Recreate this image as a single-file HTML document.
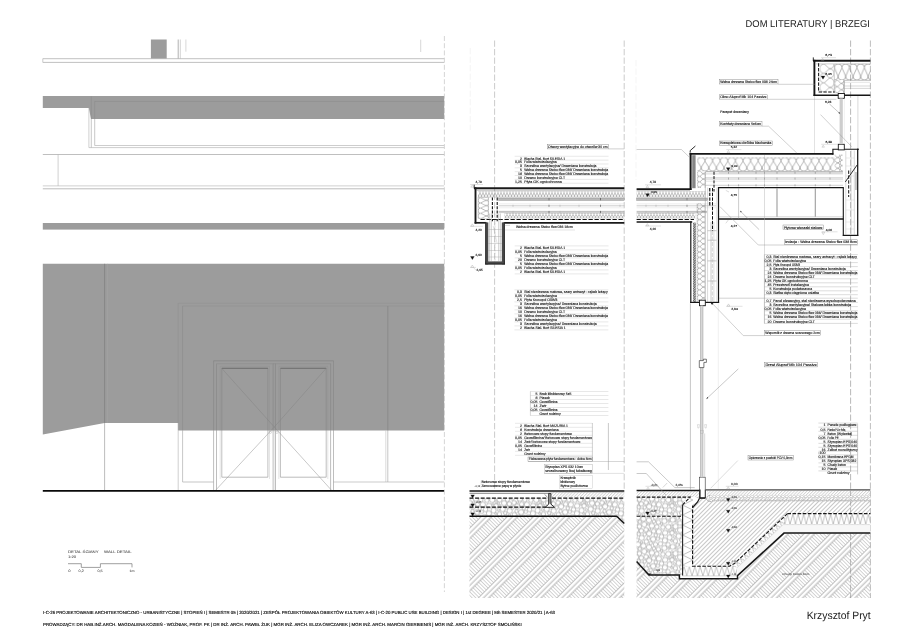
<!DOCTYPE html>
<html><head><meta charset="utf-8"><title>DOM LITERATURY | BRZEGI</title>
<style>
html,body{margin:0;padding:0;background:#fff;}
body{width:900px;height:636px;overflow:hidden;font-family:"Liberation Sans",sans-serif;}
svg{display:block;position:absolute;left:0;top:0;}
svg text{font-family:"Liberation Sans",sans-serif;text-rendering:geometricPrecision;}
</style></head><body>
<svg width="900" height="636" viewBox="0 0 900 636">
<defs><filter id="gs" x="0" y="0" width="100%" height="100%" color-interpolation-filters="sRGB"><feColorMatrix type="saturate" values="0"/></filter></defs>
<g filter="url(#gs)">
<defs>
<pattern id="earth" patternUnits="userSpaceOnUse" width="18.5" height="2.6" patternTransform="translate(488.3 535) rotate(45)"><line x1="0.3" y1="0" x2="0.3" y2="2.6" stroke="#7a7a7a" stroke-width="0.55"/><line x1="4.05" y1="0" x2="4.05" y2="2.6" stroke="#7a7a7a" stroke-width="0.55"/><line x1="7.8" y1="0" x2="7.8" y2="2.6" stroke="#7a7a7a" stroke-width="0.55"/><line x1="7.8" y1="1.3" x2="18.5" y2="1.3" stroke="#9c9c9c" stroke-width="0.45"/><line x1="0" y1="1.3" x2="0.3" y2="1.3" stroke="#9c9c9c" stroke-width="0.45"/></pattern>
<pattern id="gravel" patternUnits="userSpaceOnUse" width="44.0" height="27.0" patternTransform="translate(469 498.4)"><rect width="44.0" height="27.0" fill="#fff"/><circle cx="19.90" cy="15.11" r="2.6" fill="#fff" stroke="#858585" stroke-width="0.5"/><circle cx="40.67" cy="12.57" r="2.6" fill="#fff" stroke="#858585" stroke-width="0.5"/><circle cx="8.13" cy="13.82" r="2.6" fill="#fff" stroke="#858585" stroke-width="0.5"/><circle cx="27.71" cy="21.41" r="2.6" fill="#fff" stroke="#858585" stroke-width="0.5"/><circle cx="4.14" cy="8.19" r="2.6" fill="#fff" stroke="#858585" stroke-width="0.5"/><circle cx="3.99" cy="21.86" r="2.6" fill="#fff" stroke="#858585" stroke-width="0.5"/><circle cx="30.51" cy="1.13" r="2.6" fill="#fff" stroke="#858585" stroke-width="0.5"/><circle cx="30.51" cy="28.13" r="2.6" fill="#fff" stroke="#858585" stroke-width="0.5"/><circle cx="-0.78" cy="-0.95" r="2.6" fill="#fff" stroke="#858585" stroke-width="0.5"/><circle cx="-0.78" cy="26.05" r="2.6" fill="#fff" stroke="#858585" stroke-width="0.5"/><circle cx="43.22" cy="-0.95" r="2.6" fill="#fff" stroke="#858585" stroke-width="0.5"/><circle cx="43.22" cy="26.05" r="2.6" fill="#fff" stroke="#858585" stroke-width="0.5"/><circle cx="6.93" cy="0.41" r="2.6" fill="#fff" stroke="#858585" stroke-width="0.5"/><circle cx="6.93" cy="27.41" r="2.6" fill="#fff" stroke="#858585" stroke-width="0.5"/><circle cx="23.25" cy="1.61" r="2.6" fill="#fff" stroke="#858585" stroke-width="0.5"/><circle cx="23.25" cy="28.61" r="2.6" fill="#fff" stroke="#858585" stroke-width="0.5"/><circle cx="19.38" cy="22.75" r="2.6" fill="#fff" stroke="#858585" stroke-width="0.5"/><circle cx="20.12" cy="7.51" r="2.6" fill="#fff" stroke="#858585" stroke-width="0.5"/><circle cx="36.97" cy="19.11" r="2.6" fill="#fff" stroke="#858585" stroke-width="0.5"/><circle cx="13.87" cy="6.20" r="2.6" fill="#fff" stroke="#858585" stroke-width="0.5"/><circle cx="33.72" cy="10.81" r="2.6" fill="#fff" stroke="#858585" stroke-width="0.5"/><circle cx="-1.58" cy="20.47" r="2.6" fill="#fff" stroke="#858585" stroke-width="0.5"/><circle cx="42.42" cy="20.47" r="2.6" fill="#fff" stroke="#858585" stroke-width="0.5"/><circle cx="35.07" cy="4.80" r="2.6" fill="#fff" stroke="#858585" stroke-width="0.5"/><circle cx="24.61" cy="12.08" r="2.6" fill="#fff" stroke="#858585" stroke-width="0.5"/><circle cx="13.38" cy="23.89" r="2.2" fill="#fff" stroke="#858585" stroke-width="0.5"/><circle cx="10.49" cy="19.02" r="2.2" fill="#fff" stroke="#858585" stroke-width="0.5"/><circle cx="27.03" cy="7.57" r="2.2" fill="#fff" stroke="#858585" stroke-width="0.5"/><circle cx="40.36" cy="5.51" r="2.2" fill="#fff" stroke="#858585" stroke-width="0.5"/><circle cx="30.41" cy="15.78" r="2.2" fill="#fff" stroke="#858585" stroke-width="0.5"/><circle cx="34.90" cy="-2.29" r="2.2" fill="#fff" stroke="#858585" stroke-width="0.5"/><circle cx="34.90" cy="24.71" r="2.2" fill="#fff" stroke="#858585" stroke-width="0.5"/><circle cx="15.48" cy="18.50" r="2.2" fill="#fff" stroke="#858585" stroke-width="0.5"/><circle cx="1.31" cy="16.23" r="2.2" fill="#fff" stroke="#858585" stroke-width="0.5"/><circle cx="45.31" cy="16.23" r="2.2" fill="#fff" stroke="#858585" stroke-width="0.5"/><circle cx="38.40" cy="1.12" r="2.2" fill="#fff" stroke="#858585" stroke-width="0.5"/><circle cx="38.40" cy="28.12" r="2.2" fill="#fff" stroke="#858585" stroke-width="0.5"/><circle cx="16.53" cy="11.16" r="2.2" fill="#fff" stroke="#858585" stroke-width="0.5"/><circle cx="23.05" cy="19.17" r="2.2" fill="#fff" stroke="#858585" stroke-width="0.5"/><circle cx="17.90" cy="1.96" r="2.2" fill="#fff" stroke="#858585" stroke-width="0.5"/><circle cx="17.90" cy="28.96" r="2.2" fill="#fff" stroke="#858585" stroke-width="0.5"/><circle cx="8.65" cy="5.81" r="2.2" fill="#fff" stroke="#858585" stroke-width="0.5"/><circle cx="1.01" cy="4.35" r="2.2" fill="#fff" stroke="#858585" stroke-width="0.5"/><circle cx="45.01" cy="4.35" r="2.2" fill="#fff" stroke="#858585" stroke-width="0.5"/><circle cx="11.88" cy="1.40" r="2.2" fill="#fff" stroke="#858585" stroke-width="0.5"/><circle cx="11.88" cy="28.40" r="2.2" fill="#fff" stroke="#858585" stroke-width="0.5"/><circle cx="-0.27" cy="9.15" r="1.7" fill="#fff" stroke="#858585" stroke-width="0.5"/><circle cx="43.73" cy="9.15" r="1.7" fill="#fff" stroke="#858585" stroke-width="0.5"/><circle cx="3.53" cy="12.75" r="1.7" fill="#fff" stroke="#858585" stroke-width="0.5"/><circle cx="12.88" cy="13.54" r="1.7" fill="#fff" stroke="#858585" stroke-width="0.5"/><circle cx="10.76" cy="9.89" r="1.7" fill="#fff" stroke="#858585" stroke-width="0.5"/><circle cx="38.82" cy="23.49" r="1.7" fill="#fff" stroke="#858585" stroke-width="0.5"/><circle cx="32.46" cy="19.62" r="1.7" fill="#fff" stroke="#858585" stroke-width="0.5"/><circle cx="36.19" cy="14.71" r="1.7" fill="#fff" stroke="#858585" stroke-width="0.5"/><circle cx="5.77" cy="17.71" r="1.7" fill="#fff" stroke="#858585" stroke-width="0.5"/><circle cx="8.92" cy="23.11" r="1.7" fill="#fff" stroke="#858585" stroke-width="0.5"/><circle cx="37.76" cy="8.74" r="1.7" fill="#fff" stroke="#858585" stroke-width="0.5"/><circle cx="31.23" cy="23.14" r="1.1" fill="#fff" stroke="#858585" stroke-width="0.5"/><circle cx="3.26" cy="-1.18" r="1.1" fill="#fff" stroke="#858585" stroke-width="0.5"/><circle cx="3.26" cy="25.82" r="1.1" fill="#fff" stroke="#858585" stroke-width="0.5"/><circle cx="26.77" cy="15.39" r="1.1" fill="#fff" stroke="#858585" stroke-width="0.5"/><circle cx="27.00" cy="3.42" r="1.1" fill="#fff" stroke="#858585" stroke-width="0.5"/><circle cx="26.77" cy="-0.27" r="1.1" fill="#fff" stroke="#858585" stroke-width="0.5"/><circle cx="26.77" cy="26.73" r="1.1" fill="#fff" stroke="#858585" stroke-width="0.5"/><circle cx="30.92" cy="7.28" r="1.1" fill="#fff" stroke="#858585" stroke-width="0.5"/><circle cx="23.87" cy="23.17" r="1.1" fill="#fff" stroke="#858585" stroke-width="0.5"/><circle cx="40.46" cy="16.90" r="1.1" fill="#fff" stroke="#858585" stroke-width="0.5"/><circle cx="29.43" cy="11.54" r="1.1" fill="#fff" stroke="#858585" stroke-width="0.5"/><circle cx="4.49" cy="3.94" r="1.1" fill="#fff" stroke="#858585" stroke-width="0.5"/><circle cx="16.57" cy="-1.48" r="1.1" fill="#fff" stroke="#858585" stroke-width="0.5"/><circle cx="16.57" cy="25.52" r="1.1" fill="#fff" stroke="#858585" stroke-width="0.5"/><circle cx="23.94" cy="5.77" r="1.1" fill="#fff" stroke="#858585" stroke-width="0.5"/><circle cx="29.33" cy="4.81" r="1.1" fill="#fff" stroke="#858585" stroke-width="0.5"/></pattern>
<pattern id="ins" patternUnits="userSpaceOnUse" width="3.0" height="6.2" patternTransform="translate(0 191.3)"><path d="M0 1.50 A1.50 1.50 0 0 1 3.00 1.50 M0 1.50 L1.50 4.70 L3.00 1.50 M-1.50 4.70 A1.50 1.50 0 0 0 1.50 4.70 M1.50 4.70 A1.50 1.50 0 0 0 4.50 4.70" fill="none" stroke="#8d8d8d" stroke-width="0.55"/></pattern>
<pattern id="ins2" patternUnits="userSpaceOnUse" width="3.0" height="5.4" patternTransform="translate(0 213.1)"><path d="M0 1.50 A1.50 1.50 0 0 1 3.00 1.50 M0 1.50 L1.50 3.90 L3.00 1.50 M-1.50 3.90 A1.50 1.50 0 0 0 1.50 3.90 M1.50 3.90 A1.50 1.50 0 0 0 4.50 3.90" fill="none" stroke="#8d8d8d" stroke-width="0.55"/></pattern>
<pattern id="wave" patternUnits="userSpaceOnUse" width="7.6" height="13.8" patternTransform="translate(697.4 157.4)"><path d="M0 3.80 A3.80 3.80 0 0 1 7.60 3.80 M0 3.80 L3.80 10.00 L7.60 3.80 M-3.80 10.00 A3.80 3.80 0 0 0 3.80 10.00 M3.80 10.00 A3.80 3.80 0 0 0 11.40 10.00" fill="none" stroke="#7a7a7a" stroke-width="0.55"/></pattern>
<pattern id="wave2" patternUnits="userSpaceOnUse" width="7.5" height="16.2" patternTransform="translate(834.4 63.9)"><path d="M0 3.75 A3.75 3.75 0 0 1 7.50 3.75 M0 3.75 L3.75 12.45 L7.50 3.75 M-3.75 12.45 A3.75 3.75 0 0 0 3.75 12.45 M3.75 12.45 A3.75 3.75 0 0 0 11.25 12.45" fill="none" stroke="#7a7a7a" stroke-width="0.55"/></pattern>
<pattern id="wavev" patternUnits="userSpaceOnUse" width="5.4" height="8.4" patternTransform="translate(697.2 171) rotate(90) scale(1 -1)"><path d="M0 2.70 A2.70 2.70 0 0 1 5.40 2.70 M0 2.70 L2.70 5.70 L5.40 2.70 M-2.70 5.70 A2.70 2.70 0 0 0 2.70 5.70 M2.70 5.70 A2.70 2.70 0 0 0 8.10 5.70" fill="none" stroke="#7a7a7a" stroke-width="0.5"/></pattern>
<pattern id="wavev2" patternUnits="userSpaceOnUse" width="5.2" height="10.8" patternTransform="translate(478 197.8) rotate(90) scale(1 -1)"><path d="M0 2.60 A2.60 2.60 0 0 1 5.20 2.60 M0 2.60 L2.60 8.20 L5.20 2.60 M-2.60 8.20 A2.60 2.60 0 0 0 2.60 8.20 M2.60 8.20 A2.60 2.60 0 0 0 7.80 8.20" fill="none" stroke="#7a7a7a" stroke-width="0.5"/></pattern>
<pattern id="wavev3" patternUnits="userSpaceOnUse" width="9.4" height="14.6" patternTransform="translate(819.6 64) rotate(90) scale(1 -1)"><path d="M0 4.70 A4.70 4.70 0 0 1 9.40 4.70 M0 4.70 L4.70 9.90 L9.40 4.70 M-4.70 9.90 A4.70 4.70 0 0 0 4.70 9.90 M4.70 9.90 A4.70 4.70 0 0 0 14.10 9.90" fill="none" stroke="#7a7a7a" stroke-width="0.5"/></pattern>
<pattern id="wavev4" patternUnits="userSpaceOnUse" width="6.4" height="9.6" patternTransform="translate(834.5 80.2) rotate(90) scale(1 -1)"><path d="M0 3.20 A3.20 3.20 0 0 1 6.40 3.20 M0 3.20 L3.20 6.40 L6.40 3.20 M-3.20 6.40 A3.20 3.20 0 0 0 3.20 6.40 M3.20 6.40 A3.20 3.20 0 0 0 9.60 6.40" fill="none" stroke="#7a7a7a" stroke-width="0.5"/></pattern>
<pattern id="xpsv" patternUnits="userSpaceOnUse" width="10.2" height="10" patternTransform="translate(682.6 505)"><path d="M0 0 L10.2 5 L0 10" fill="none" stroke="#858585" stroke-width="0.5"/></pattern>
<pattern id="xpsh" patternUnits="userSpaceOnUse" width="5.4" height="9.6" patternTransform="translate(684 566.4)"><path d="M0 0 L2.7 9.6 L5.4 0" fill="none" stroke="#858585" stroke-width="0.5"/></pattern>
<pattern id="xpsd" patternUnits="userSpaceOnUse" width="5.4" height="10.2" patternTransform="translate(787.4 514) "><path d="M0 0 L2.7 10.2 L5.4 0" fill="none" stroke="#858585" stroke-width="0.5"/></pattern>
<pattern id="xpsdiag" patternUnits="userSpaceOnUse" width="5.4" height="7.6" patternTransform="translate(787.4 513.8) rotate(-43.3)"><path d="M0 0 L2.7 7.6 L5.4 0" fill="none" stroke="#858585" stroke-width="0.5"/></pattern>
<pattern id="lh" patternUnits="userSpaceOnUse" width="2.2" height="2.2" patternTransform="rotate(45)"><line x1="0.5" y1="0" x2="0.5" y2="2.2" stroke="#a8a8a8" stroke-width="0.45"/></pattern>
<pattern id="conc" patternUnits="userSpaceOnUse" width="3.0" height="3" patternTransform="translate(692 500) rotate(45)"><line x1="0.5" y1="0" x2="0.5" y2="3" stroke="#8f8f8f" stroke-width="0.5"/></pattern>
<pattern id="dots" patternUnits="userSpaceOnUse" width="1.6" height="1.6"><rect width="1.6" height="1.6" fill="#d4d4d4"/><circle cx="0.8" cy="0.8" r="0.5" fill="#5a5a5a"/></pattern>
<pattern id="dots2" patternUnits="userSpaceOnUse" width="1.5" height="1.5"><rect width="1.5" height="1.5" fill="#b4b4b4"/><circle cx="0.75" cy="0.75" r="0.5" fill="#333"/></pattern>
<pattern id="dots3" patternUnits="userSpaceOnUse" width="1.5" height="1.5"><rect width="1.5" height="1.5" fill="#6e6e6e"/><circle cx="0.75" cy="0.75" r="0.55" fill="#111"/></pattern>
<pattern id="dots4" patternUnits="userSpaceOnUse" width="2.7" height="2.4"><rect width="2.7" height="2.4" fill="#c9c9c9"/><path d="M0.4 2.2 L2.3 0.2" stroke="#2a2a2a" stroke-width="0.95" fill="none"/></pattern>
</defs>
<g id="elev">
<rect x="150.90" y="39.50" width="15.80" height="19.10" fill="#9c9c9c" stroke="none" stroke-width="0.6" />
<line x1="178.20" y1="39.50" x2="178.20" y2="58.60" stroke="#8f8f8f" stroke-width="0.7" />
<line x1="180.30" y1="39.50" x2="180.30" y2="58.60" stroke="#b5b5b5" stroke-width="0.6" />
<line x1="185.90" y1="39.50" x2="185.90" y2="51.70" stroke="#bdbdbd" stroke-width="0.6" />
<line x1="420.70" y1="39.70" x2="420.70" y2="52.00" stroke="#bdbdbd" stroke-width="0.6" />
<line x1="42.80" y1="58.70" x2="444.20" y2="58.70" stroke="#a6a6a6" stroke-width="0.7" />
<line x1="42.80" y1="62.40" x2="444.20" y2="62.40" stroke="#a6a6a6" stroke-width="0.7" />
<line x1="42.80" y1="58.70" x2="42.80" y2="62.40" stroke="#a6a6a6" stroke-width="0.6" />
<path d="M42.80 95.90 L444.20 95.90 L444.20 118.90 L91.00 118.90 L88.80 108.00 L42.80 108.00 Z" fill="#9c9c9c" stroke="none" stroke-width="0.6" />
<line x1="94.70" y1="101.40" x2="444.20" y2="101.40" stroke="#888" stroke-width="0.5" />
<line x1="91.30" y1="96.50" x2="91.30" y2="118.90" stroke="#888" stroke-width="0.5" />
<line x1="94.70" y1="101.40" x2="94.70" y2="118.90" stroke="#888" stroke-width="0.5" />
<line x1="88.90" y1="108.00" x2="88.90" y2="147.60" stroke="#b0b0b0" stroke-width="0.6" />
<line x1="91.30" y1="118.90" x2="91.30" y2="147.60" stroke="#a3a3a3" stroke-width="0.6" />
<line x1="94.70" y1="118.90" x2="94.70" y2="145.50" stroke="#a3a3a3" stroke-width="0.6" />
<line x1="94.70" y1="145.50" x2="444.20" y2="145.50" stroke="#ababab" stroke-width="0.6" />
<line x1="88.90" y1="147.60" x2="444.20" y2="147.60" stroke="#ababab" stroke-width="0.6" />
<line x1="42.80" y1="154.50" x2="444.20" y2="154.50" stroke="#a3a3a3" stroke-width="0.7" />
<line x1="58.10" y1="154.50" x2="58.10" y2="185.90" stroke="#b0b0b0" stroke-width="0.6" />
<line x1="42.80" y1="185.90" x2="444.20" y2="185.90" stroke="#b0b0b0" stroke-width="0.6" />
<line x1="42.80" y1="188.80" x2="444.20" y2="188.80" stroke="#a0a0a0" stroke-width="0.7" />
<rect x="42.80" y="223.00" width="401.40" height="6.60" fill="#9c9c9c" stroke="none" stroke-width="0.6" />
<path d="M42.80 263.80 L444.20 263.80 L444.20 430.50 L178.20 430.50 L178.20 423.00 L104.60 423.00 L42.80 434.60 Z" fill="#9c9c9c" stroke="none" stroke-width="0.6" />
<line x1="104.60" y1="263.80" x2="104.60" y2="423.00" stroke="#808080" stroke-width="0.8" />
<line x1="104.60" y1="423.00" x2="104.60" y2="490.80" stroke="#a0a0a0" stroke-width="0.7" />
<line x1="107.60" y1="263.80" x2="107.60" y2="423.00" stroke="#a6a6a6" stroke-width="0.5" />
<line x1="178.20" y1="303.30" x2="444.20" y2="303.30" stroke="#929292" stroke-width="0.6" />
<line x1="182.60" y1="306.00" x2="444.20" y2="306.00" stroke="#8e8e8e" stroke-width="0.5" />
<line x1="178.20" y1="303.30" x2="178.20" y2="430.50" stroke="#909090" stroke-width="0.6" />
<line x1="178.20" y1="430.50" x2="178.20" y2="490.80" stroke="#b0b0b0" stroke-width="0.6" />
<line x1="182.60" y1="306.00" x2="182.60" y2="430.50" stroke="#8a8a8a" stroke-width="0.6" />
<line x1="182.60" y1="430.50" x2="182.60" y2="482.00" stroke="#a0a0a0" stroke-width="0.6" />
<line x1="182.60" y1="482.00" x2="213.60" y2="482.00" stroke="#a0a0a0" stroke-width="0.6" />
<line x1="387.80" y1="306.00" x2="387.80" y2="430.50" stroke="#858585" stroke-width="0.7" />
<line x1="387.80" y1="430.50" x2="387.80" y2="482.00" stroke="#a0a0a0" stroke-width="0.6" />
<line x1="385.80" y1="430.50" x2="385.80" y2="482.00" stroke="#b8b8b8" stroke-width="0.5" />
<line x1="333.50" y1="482.00" x2="444.20" y2="482.00" stroke="#a8a8a8" stroke-width="0.6" />
<line x1="213.60" y1="360.80" x2="213.60" y2="430.50" stroke="#858585" stroke-width="0.6" />
<line x1="213.60" y1="430.50" x2="213.60" y2="490.80" stroke="#929292" stroke-width="0.6" />
<line x1="333.50" y1="360.80" x2="333.50" y2="430.50" stroke="#858585" stroke-width="0.6" />
<line x1="333.50" y1="430.50" x2="333.50" y2="490.80" stroke="#929292" stroke-width="0.6" />
<line x1="213.60" y1="360.80" x2="333.50" y2="360.80" stroke="#808080" stroke-width="0.6" />
<line x1="216.50" y1="363.70" x2="216.50" y2="430.50" stroke="#858585" stroke-width="0.6" />
<line x1="216.50" y1="430.50" x2="216.50" y2="490.80" stroke="#929292" stroke-width="0.6" />
<line x1="330.60" y1="363.70" x2="330.60" y2="430.50" stroke="#858585" stroke-width="0.6" />
<line x1="330.60" y1="430.50" x2="330.60" y2="490.80" stroke="#929292" stroke-width="0.6" />
<line x1="216.50" y1="363.70" x2="330.60" y2="363.70" stroke="#8c8c8c" stroke-width="0.6" />
<line x1="273.10" y1="363.70" x2="273.10" y2="430.50" stroke="#858585" stroke-width="0.6" />
<line x1="273.10" y1="430.50" x2="273.10" y2="490.80" stroke="#929292" stroke-width="0.6" />
<line x1="275.50" y1="363.70" x2="275.50" y2="430.50" stroke="#858585" stroke-width="0.6" />
<line x1="275.50" y1="430.50" x2="275.50" y2="490.80" stroke="#929292" stroke-width="0.6" />
<line x1="274.30" y1="363.70" x2="274.30" y2="430.50" stroke="#949494" stroke-width="0.4" />
<line x1="274.30" y1="430.50" x2="274.30" y2="490.80" stroke="#c4c4c4" stroke-width="0.4" />
<line x1="221.80" y1="368.20" x2="221.80" y2="430.50" stroke="#858585" stroke-width="0.6" />
<line x1="221.80" y1="430.50" x2="221.80" y2="477.20" stroke="#929292" stroke-width="0.6" />
<line x1="267.90" y1="368.20" x2="267.90" y2="430.50" stroke="#858585" stroke-width="0.6" />
<line x1="267.90" y1="430.50" x2="267.90" y2="477.20" stroke="#929292" stroke-width="0.6" />
<line x1="221.80" y1="477.20" x2="267.90" y2="477.20" stroke="#8e8e8e" stroke-width="0.6" />
<line x1="221.80" y1="368.30" x2="267.90" y2="368.30" stroke="#6a6a6a" stroke-width="1.1" />
<line x1="220.20" y1="366.30" x2="269.50" y2="366.30" stroke="#8e8e8e" stroke-width="0.4" />
<line x1="220.20" y1="366.30" x2="220.20" y2="430.50" stroke="#909090" stroke-width="0.4" />
<line x1="220.20" y1="430.50" x2="220.20" y2="479.00" stroke="#c0c0c0" stroke-width="0.4" />
<line x1="269.50" y1="366.30" x2="269.50" y2="430.50" stroke="#909090" stroke-width="0.4" />
<line x1="269.50" y1="430.50" x2="269.50" y2="479.00" stroke="#c0c0c0" stroke-width="0.4" />
<line x1="280.40" y1="368.20" x2="280.40" y2="430.50" stroke="#858585" stroke-width="0.6" />
<line x1="280.40" y1="430.50" x2="280.40" y2="477.20" stroke="#929292" stroke-width="0.6" />
<line x1="326.20" y1="368.20" x2="326.20" y2="430.50" stroke="#858585" stroke-width="0.6" />
<line x1="326.20" y1="430.50" x2="326.20" y2="477.20" stroke="#929292" stroke-width="0.6" />
<line x1="280.40" y1="477.20" x2="326.20" y2="477.20" stroke="#8e8e8e" stroke-width="0.6" />
<line x1="280.40" y1="368.30" x2="326.20" y2="368.30" stroke="#6a6a6a" stroke-width="1.1" />
<line x1="278.80" y1="366.30" x2="327.80" y2="366.30" stroke="#8e8e8e" stroke-width="0.4" />
<line x1="278.80" y1="366.30" x2="278.80" y2="430.50" stroke="#909090" stroke-width="0.4" />
<line x1="278.80" y1="430.50" x2="278.80" y2="479.00" stroke="#c0c0c0" stroke-width="0.4" />
<line x1="327.80" y1="366.30" x2="327.80" y2="430.50" stroke="#909090" stroke-width="0.4" />
<line x1="327.80" y1="430.50" x2="327.80" y2="479.00" stroke="#c0c0c0" stroke-width="0.4" />
<line x1="221.70" y1="368.30" x2="274.30" y2="427.00" stroke="#858585" stroke-width="0.5" />
<line x1="326.20" y1="368.30" x2="274.30" y2="427.00" stroke="#858585" stroke-width="0.5" />
<line x1="274.30" y1="427.00" x2="271.05" y2="430.50" stroke="#858585" stroke-width="0.5" />
<line x1="271.05" y1="430.50" x2="215.10" y2="490.80" stroke="#929292" stroke-width="0.5" />
<line x1="274.30" y1="427.00" x2="277.47" y2="430.50" stroke="#858585" stroke-width="0.5" />
<line x1="277.47" y1="430.50" x2="332.00" y2="490.80" stroke="#929292" stroke-width="0.5" />
<circle cx="270.3" cy="432.3" r="1.2" fill="none" stroke="#aaa" stroke-width="0.4"/>
<circle cx="276.9" cy="432.3" r="1.2" fill="none" stroke="#aaa" stroke-width="0.4"/>
<line x1="268.60" y1="430.80" x2="278.60" y2="430.80" stroke="#aaa" stroke-width="0.4" />
<line x1="42.80" y1="490.80" x2="444.20" y2="490.80" stroke="#0a0a0a" stroke-width="1.7" />
<line x1="444.40" y1="36.00" x2="444.40" y2="592.00" stroke="#c4c4c4" stroke-width="0.7" stroke-dasharray="5 2.2"/>
</g>
<g id="scalebar">
<text x="68.00" y="553.20" font-size="3.6" text-anchor="start" fill="#444" textLength="30.50" lengthAdjust="spacingAndGlyphs" stroke="#444" stroke-width="0.05">DETAL ŚCIANY</text>
<text x="104.00" y="553.20" font-size="3.6" text-anchor="start" fill="#444" textLength="27.60" lengthAdjust="spacingAndGlyphs" stroke="#444" stroke-width="0.05">WALL DETAIL</text>
<text x="68.00" y="558.20" font-size="3.6" text-anchor="start" fill="#444" textLength="8.20" lengthAdjust="spacingAndGlyphs" stroke="#444" stroke-width="0.05">1:20</text>
<path d="M68.00 563.70 L81.30 563.70 L81.30 567.40 L100.40 567.40 L100.40 563.70 L132.00 563.70 L132.00 567.40" fill="none" stroke="#777" stroke-width="0.7" />
<text x="68.20" y="572.00" font-size="3.4" text-anchor="start" fill="#444" textLength="2.30" lengthAdjust="spacingAndGlyphs" stroke="#444" stroke-width="0.05">0</text>
<text x="78.60" y="572.00" font-size="3.4" text-anchor="start" fill="#444" textLength="5.20" lengthAdjust="spacingAndGlyphs" stroke="#444" stroke-width="0.05">0,2</text>
<text x="97.40" y="572.00" font-size="3.4" text-anchor="start" fill="#444" textLength="5.20" lengthAdjust="spacingAndGlyphs" stroke="#444" stroke-width="0.05">0,5</text>
<text x="129.60" y="572.00" font-size="3.4" text-anchor="start" fill="#444" textLength="5.00" lengthAdjust="spacingAndGlyphs" stroke="#444" stroke-width="0.05">1m</text>
</g>
<g id="mid">
<line x1="494.60" y1="40.50" x2="494.60" y2="490.40" stroke="#b4b4b4" stroke-width="0.7" stroke-dasharray="6.3 2.2"/>
<line x1="624.20" y1="40.50" x2="624.20" y2="490.40" stroke="#b4b4b4" stroke-width="0.7" stroke-dasharray="6.3 2.2"/>
<line x1="470.20" y1="48.00" x2="470.20" y2="130.00" stroke="#ececec" stroke-width="0.6" stroke-dasharray="6.3 2.2"/>
<rect x="478" y="191.3" width="146.30" height="6.2" fill="url(#ins)"/>
<rect x="504.5" y="213.1" width="119.80" height="5.4" fill="url(#ins2)"/>
<rect x="478" y="197.8" width="10.8" height="20.8" fill="url(#wavev2)" stroke="#999" stroke-width="0.3"/>
<rect x="498.60" y="198.00" width="125.70" height="2.50" fill="#b9b9b9" stroke="#7c7c7c" stroke-width="0.35" />
<line x1="476.60" y1="190.30" x2="624.30" y2="190.30" stroke="#666" stroke-width="0.4" />
<line x1="498.60" y1="203.90" x2="624.30" y2="203.90" stroke="#cfcfcf" stroke-width="0.4" />
<line x1="498.60" y1="205.80" x2="624.30" y2="205.80" stroke="#8f8f8f" stroke-width="0.45" />
<line x1="498.60" y1="207.80" x2="624.30" y2="207.80" stroke="#d5d5d5" stroke-width="0.4" />
<line x1="498.60" y1="211.40" x2="624.30" y2="211.40" stroke="#555" stroke-width="0.4" />
<line x1="498.60" y1="212.60" x2="624.30" y2="212.60" stroke="#777" stroke-width="0.4" />
<line x1="513.00" y1="198.10" x2="513.00" y2="200.30" stroke="#aaa" stroke-width="0.5" />
<line x1="513.00" y1="204.70" x2="513.00" y2="206.90" stroke="#aaa" stroke-width="0.5" />
<line x1="513.00" y1="210.90" x2="513.00" y2="213.10" stroke="#aaa" stroke-width="0.5" />
<line x1="530.00" y1="198.10" x2="530.00" y2="200.30" stroke="#aaa" stroke-width="0.5" />
<line x1="530.00" y1="204.70" x2="530.00" y2="206.90" stroke="#aaa" stroke-width="0.5" />
<line x1="530.00" y1="210.90" x2="530.00" y2="213.10" stroke="#aaa" stroke-width="0.5" />
<line x1="549.00" y1="198.10" x2="549.00" y2="200.30" stroke="#333" stroke-width="0.5" />
<line x1="549.00" y1="204.70" x2="549.00" y2="206.90" stroke="#333" stroke-width="0.5" />
<line x1="549.00" y1="210.90" x2="549.00" y2="213.10" stroke="#333" stroke-width="0.5" />
<line x1="560.00" y1="198.10" x2="560.00" y2="200.30" stroke="#aaa" stroke-width="0.5" />
<line x1="560.00" y1="204.70" x2="560.00" y2="206.90" stroke="#aaa" stroke-width="0.5" />
<line x1="560.00" y1="210.90" x2="560.00" y2="213.10" stroke="#aaa" stroke-width="0.5" />
<line x1="579.00" y1="198.10" x2="579.00" y2="200.30" stroke="#aaa" stroke-width="0.5" />
<line x1="579.00" y1="204.70" x2="579.00" y2="206.90" stroke="#aaa" stroke-width="0.5" />
<line x1="579.00" y1="210.90" x2="579.00" y2="213.10" stroke="#aaa" stroke-width="0.5" />
<line x1="600.50" y1="198.10" x2="600.50" y2="200.30" stroke="#222" stroke-width="0.5" />
<line x1="600.50" y1="204.70" x2="600.50" y2="206.90" stroke="#222" stroke-width="0.5" />
<line x1="600.50" y1="210.90" x2="600.50" y2="213.10" stroke="#222" stroke-width="0.5" />
<line x1="620.00" y1="198.10" x2="620.00" y2="200.30" stroke="#aaa" stroke-width="0.5" />
<line x1="620.00" y1="204.70" x2="620.00" y2="206.90" stroke="#aaa" stroke-width="0.5" />
<line x1="620.00" y1="210.90" x2="620.00" y2="213.10" stroke="#aaa" stroke-width="0.5" />
<line x1="474.00" y1="188.30" x2="624.30" y2="188.30" stroke="#1a1a1a" stroke-width="2.0" />
<line x1="475.50" y1="187.30" x2="475.50" y2="223.60" stroke="#1a1a1a" stroke-width="1.9" />
<line x1="474.60" y1="222.80" x2="486.50" y2="222.80" stroke="#1a1a1a" stroke-width="1.7" />
<line x1="503.60" y1="222.80" x2="624.30" y2="222.80" stroke="#1a1a1a" stroke-width="1.7" />
<line x1="480.50" y1="219.50" x2="624.30" y2="219.50" stroke="#111" stroke-width="1.2" stroke-dasharray="4.3 1.7"/>
<line x1="492.40" y1="197.60" x2="492.40" y2="221.30" stroke="#111" stroke-width="1.1" stroke-dasharray="3.0 1.3"/>
<line x1="497.20" y1="197.60" x2="497.20" y2="221.30" stroke="#111" stroke-width="1.1" stroke-dasharray="3.0 1.3"/>
<line x1="474.20" y1="184.60" x2="474.20" y2="188.50" stroke="#111" stroke-width="0.9" />
<rect x="485.30" y="222.40" width="3.00" height="42.00" fill="url(#dots3)" stroke="none" stroke-width="0.6" />
<rect x="501.80" y="222.40" width="3.00" height="42.00" fill="url(#dots3)" stroke="none" stroke-width="0.6" />
<rect x="485.30" y="261.40" width="19.50" height="3.00" fill="url(#dots3)" stroke="none" stroke-width="0.6" />
<line x1="485.70" y1="222.60" x2="485.70" y2="264.40" stroke="#222" stroke-width="0.8" />
<line x1="504.40" y1="222.60" x2="504.40" y2="264.40" stroke="#222" stroke-width="0.8" />
<line x1="485.30" y1="264.00" x2="504.80" y2="264.00" stroke="#222" stroke-width="0.9" />
<line x1="489.60" y1="213.50" x2="489.60" y2="261.40" stroke="#8a8a8a" stroke-width="0.4" />
<line x1="491.30" y1="213.50" x2="491.30" y2="261.40" stroke="#8a8a8a" stroke-width="0.4" />
<line x1="498.70" y1="213.50" x2="498.70" y2="261.40" stroke="#8a8a8a" stroke-width="0.4" />
<line x1="500.40" y1="213.50" x2="500.40" y2="261.40" stroke="#8a8a8a" stroke-width="0.4" />
<line x1="495.00" y1="213.50" x2="495.00" y2="261.40" stroke="#aaa" stroke-width="0.4" stroke-dasharray="2 1"/>
<line x1="488.30" y1="229.50" x2="501.80" y2="229.50" stroke="#a5a5a5" stroke-width="0.4" />
<line x1="488.30" y1="236.50" x2="501.80" y2="236.50" stroke="#a5a5a5" stroke-width="0.4" />
<line x1="488.30" y1="243.50" x2="501.80" y2="243.50" stroke="#a5a5a5" stroke-width="0.4" />
<line x1="488.30" y1="250.50" x2="501.80" y2="250.50" stroke="#a5a5a5" stroke-width="0.4" />
<line x1="488.30" y1="257.00" x2="501.80" y2="257.00" stroke="#a5a5a5" stroke-width="0.4" />
<line x1="493.20" y1="226.00" x2="497.00" y2="243.00" stroke="#bbb" stroke-width="0.4" />
<text x="475.60" y="183.40" font-size="3.2" text-anchor="start" fill="#111" textLength="6.20" lengthAdjust="spacingAndGlyphs"  stroke="#111" stroke-width="0.12">4,78</text>
<line x1="470.00" y1="184.50" x2="483.00" y2="184.50" stroke="#aaa" stroke-width="0.35" />
<path d="M470.81 187.20 L473.79 187.20 L472.30 184.80 Z" fill="none" stroke="#999" stroke-width="0.35" />
<text x="475.60" y="230.60" font-size="3.2" text-anchor="start" fill="#111" textLength="6.20" lengthAdjust="spacingAndGlyphs"  stroke="#111" stroke-width="0.12">4,20</text>
<line x1="470.00" y1="226.30" x2="483.00" y2="226.30" stroke="#aaa" stroke-width="0.35" />
<path d="M470.81 226.20 L473.79 226.20 L472.30 223.80 Z" fill="none" stroke="#999" stroke-width="0.35" />
<text x="475.60" y="255.60" font-size="3.2" text-anchor="start" fill="#111" textLength="6.20" lengthAdjust="spacingAndGlyphs"  stroke="#111" stroke-width="0.12">3,90</text>
<path d="M470.54 256.50 L474.26 256.50 L472.40 259.60 Z" fill="#111" stroke="#111" stroke-width="0.3" />
<text x="476.60" y="271.20" font-size="3.2" text-anchor="start" fill="#111" textLength="6.20" lengthAdjust="spacingAndGlyphs"  stroke="#111" stroke-width="0.12">3,95</text>
<path d="M470.81 267.40 L473.79 267.40 L472.30 265.00 Z" fill="none" stroke="#999" stroke-width="0.35" />
<line x1="473.40" y1="267.40" x2="476.00" y2="270.30" stroke="#aaa" stroke-width="0.35" />
<line x1="470.00" y1="267.40" x2="476.00" y2="267.40" stroke="#aaa" stroke-width="0.35" />
<path d="M469.5 516.6 L616.7 516.6 L624.3 523.8 L624.3 598 L469.5 598 Z" fill="url(#earth)"/>
<path d="M469.5 498.6 L624.3 498.6 L624.3 523 L616.7 516 L469.5 516 Z" fill="url(#gravel)"/>
<rect x="551.2" y="492.3" width="73.10" height="5.0" fill="url(#lh)"/>
<line x1="469.50" y1="491.00" x2="624.30" y2="491.00" stroke="#151515" stroke-width="1.4" />
<line x1="469.50" y1="493.30" x2="549.00" y2="493.30" stroke="#333" stroke-width="0.6" />
<line x1="551.00" y1="492.40" x2="624.30" y2="492.40" stroke="#999" stroke-width="0.4" />
<line x1="469.50" y1="498.20" x2="548.00" y2="498.20" stroke="#111" stroke-width="1.2" stroke-dasharray="4.0 1.6"/>
<line x1="552.00" y1="498.20" x2="624.30" y2="498.20" stroke="#111" stroke-width="1.2" stroke-dasharray="4.0 1.6"/>
<line x1="469.50" y1="507.10" x2="545.60" y2="507.10" stroke="#111" stroke-width="1.2" stroke-dasharray="4.0 1.6"/>
<path d="M469.50 516.20 L616.70 516.20 L624.30 523.60" fill="none" stroke="#111" stroke-width="1.4" />
<path d="M548.70 493.30 L550.90 493.30 L550.90 504.20 L554.60 507.30 L545.20 507.30 L548.70 504.20 Z" fill="#fff" stroke="#111" stroke-width="0.9" />
<line x1="549.80" y1="493.30" x2="549.80" y2="503.50" stroke="#111" stroke-width="0.5" />
<path d="M470.80 494.90 L474.40 494.90 L472.60 497.90 Z" fill="#111" stroke="#111" stroke-width="0.3" />
<path d="M470.80 503.90 L474.40 503.90 L472.60 506.90 Z" fill="#111" stroke="#111" stroke-width="0.3" />
<path d="M470.80 512.90 L474.40 512.90 L472.60 515.90 Z" fill="#111" stroke="#111" stroke-width="0.3" />
<text x="475.80" y="502.60" font-size="2.6" text-anchor="start" fill="#555" textLength="5.40" lengthAdjust="spacingAndGlyphs"  stroke="#555" stroke-width="0.12">-0,27</text>
<text x="475.80" y="511.60" font-size="2.6" text-anchor="start" fill="#555" textLength="5.40" lengthAdjust="spacingAndGlyphs"  stroke="#555" stroke-width="0.12">-0,36</text>
<line x1="544.50" y1="494.30" x2="547.50" y2="497.20" stroke="#333" stroke-width="0.5" />
</g>
<g id="midlabels">
<rect x="547.30" y="144.30" width="61.10" height="4.60" fill="none" stroke="#777" stroke-width="0.4" />
<text x="548.10" y="147.85" font-size="3.6" text-anchor="start" fill="#111" textLength="59.50" lengthAdjust="spacingAndGlyphs"  stroke="#111" stroke-width="0.12">Otwory wentylacyjne do otworów 30 cm</text>
<line x1="608.40" y1="148.90" x2="624.30" y2="148.90" stroke="#888" stroke-width="0.4" />
<line x1="514.70" y1="156.28" x2="608.50" y2="156.28" stroke="#bdbdbd" stroke-width="0.35" />
<text x="521.90" y="159.58" font-size="3.6" text-anchor="end" fill="#111"  stroke="#111" stroke-width="0.12">2</text>
<text x="524.20" y="159.58" font-size="3.6" text-anchor="start" fill="#111" textLength="40.80" lengthAdjust="spacingAndGlyphs"  stroke="#111" stroke-width="0.12">Blacha Stal. Bort   SILESIA 1</text>
<line x1="514.70" y1="160.13" x2="608.50" y2="160.13" stroke="#bdbdbd" stroke-width="0.35" />
<text x="521.90" y="163.43" font-size="3.6" text-anchor="end" fill="#111"  stroke="#111" stroke-width="0.12">0,05</text>
<text x="524.20" y="163.43" font-size="3.6" text-anchor="start" fill="#111" textLength="32.50" lengthAdjust="spacingAndGlyphs"  stroke="#111" stroke-width="0.12">Folia wiatroizolacyjna</text>
<line x1="514.70" y1="163.97" x2="608.50" y2="163.97" stroke="#bdbdbd" stroke-width="0.35" />
<text x="521.90" y="167.28" font-size="3.6" text-anchor="end" fill="#111"  stroke="#111" stroke-width="0.12">3</text>
<text x="524.20" y="167.28" font-size="3.6" text-anchor="start" fill="#111" textLength="72.20" lengthAdjust="spacingAndGlyphs"  stroke="#111" stroke-width="0.12">Szczelina wentylacyjna/ Drewniana konstrukcja</text>
<line x1="514.70" y1="167.83" x2="608.50" y2="167.83" stroke="#bdbdbd" stroke-width="0.35" />
<text x="521.90" y="171.13" font-size="3.6" text-anchor="end" fill="#111"  stroke="#111" stroke-width="0.12">5</text>
<text x="524.20" y="171.13" font-size="3.6" text-anchor="start" fill="#111" textLength="83.90" lengthAdjust="spacingAndGlyphs"  stroke="#111" stroke-width="0.12">Wełna drzewna Steico flex 036/ Drewniana konstrukcja</text>
<line x1="514.70" y1="171.67" x2="608.50" y2="171.67" stroke="#bdbdbd" stroke-width="0.35" />
<text x="521.90" y="174.98" font-size="3.6" text-anchor="end" fill="#111"  stroke="#111" stroke-width="0.12">18</text>
<text x="524.20" y="174.98" font-size="3.6" text-anchor="start" fill="#111" textLength="83.90" lengthAdjust="spacingAndGlyphs"  stroke="#111" stroke-width="0.12">Wełna drzewna Steico flex 036/ Drewniana konstrukcja</text>
<line x1="514.70" y1="175.53" x2="608.50" y2="175.53" stroke="#bdbdbd" stroke-width="0.35" />
<text x="521.90" y="178.83" font-size="3.6" text-anchor="end" fill="#111"  stroke="#111" stroke-width="0.12">10</text>
<text x="524.20" y="178.83" font-size="3.6" text-anchor="start" fill="#111" textLength="40.80" lengthAdjust="spacingAndGlyphs"  stroke="#111" stroke-width="0.12">Drewno konstrukcyjne CLT</text>
<line x1="514.70" y1="179.38" x2="608.50" y2="179.38" stroke="#bdbdbd" stroke-width="0.35" />
<text x="521.90" y="182.68" font-size="3.6" text-anchor="end" fill="#111"  stroke="#111" stroke-width="0.12">1,25</text>
<text x="524.20" y="182.68" font-size="3.6" text-anchor="start" fill="#111" textLength="37.70" lengthAdjust="spacingAndGlyphs"  stroke="#111" stroke-width="0.12">Płyta GK ogniochronna</text>
<line x1="514.70" y1="183.22" x2="608.50" y2="183.22" stroke="#bdbdbd" stroke-width="0.35" />
<text x="515.90" y="228.40" font-size="3.6" text-anchor="start" fill="#111" textLength="56.90" lengthAdjust="spacingAndGlyphs"  stroke="#111" stroke-width="0.12">Wełna drzewna Steico flex 036 18cm</text>
<path d="M504.80 225.40 L510.00 225.40" fill="none" stroke="#999" stroke-width="0.35" />
<line x1="504.80" y1="230.00" x2="575.00" y2="230.00" stroke="#b5b5b5" stroke-width="0.35" />
<line x1="514.70" y1="245.90" x2="608.50" y2="245.90" stroke="#bdbdbd" stroke-width="0.35" />
<text x="521.90" y="249.28" font-size="3.6" text-anchor="end" fill="#111"  stroke="#111" stroke-width="0.12">2</text>
<text x="524.20" y="249.28" font-size="3.6" text-anchor="start" fill="#111" textLength="40.80" lengthAdjust="spacingAndGlyphs"  stroke="#111" stroke-width="0.12">Blacha Stal. Bort   SILESIA 1</text>
<line x1="514.70" y1="249.90" x2="608.50" y2="249.90" stroke="#bdbdbd" stroke-width="0.35" />
<text x="521.90" y="253.28" font-size="3.6" text-anchor="end" fill="#111"  stroke="#111" stroke-width="0.12">0,05</text>
<text x="524.20" y="253.28" font-size="3.6" text-anchor="start" fill="#111" textLength="32.50" lengthAdjust="spacingAndGlyphs"  stroke="#111" stroke-width="0.12">Folia wiatroizolacyjna</text>
<line x1="514.70" y1="253.90" x2="608.50" y2="253.90" stroke="#bdbdbd" stroke-width="0.35" />
<text x="521.90" y="257.28" font-size="3.6" text-anchor="end" fill="#111"  stroke="#111" stroke-width="0.12">5</text>
<text x="524.20" y="257.28" font-size="3.6" text-anchor="start" fill="#111" textLength="83.90" lengthAdjust="spacingAndGlyphs"  stroke="#111" stroke-width="0.12">Wełna drzewna Steico flex 036/ Drewniana konstrukcja</text>
<line x1="514.70" y1="257.90" x2="608.50" y2="257.90" stroke="#bdbdbd" stroke-width="0.35" />
<text x="521.90" y="261.28" font-size="3.6" text-anchor="end" fill="#111"  stroke="#111" stroke-width="0.12">20</text>
<text x="524.20" y="261.28" font-size="3.6" text-anchor="start" fill="#111" textLength="40.80" lengthAdjust="spacingAndGlyphs"  stroke="#111" stroke-width="0.12">Drewno konstrukcyjne CLT</text>
<line x1="514.70" y1="261.90" x2="608.50" y2="261.90" stroke="#bdbdbd" stroke-width="0.35" />
<text x="521.90" y="265.28" font-size="3.6" text-anchor="end" fill="#111"  stroke="#111" stroke-width="0.12">5</text>
<text x="524.20" y="265.28" font-size="3.6" text-anchor="start" fill="#111" textLength="83.90" lengthAdjust="spacingAndGlyphs"  stroke="#111" stroke-width="0.12">Wełna drzewna Steico flex 036/ Drewniana konstrukcja</text>
<line x1="514.70" y1="265.90" x2="608.50" y2="265.90" stroke="#bdbdbd" stroke-width="0.35" />
<text x="521.90" y="269.28" font-size="3.6" text-anchor="end" fill="#111"  stroke="#111" stroke-width="0.12">0,05</text>
<text x="524.20" y="269.28" font-size="3.6" text-anchor="start" fill="#111" textLength="32.50" lengthAdjust="spacingAndGlyphs"  stroke="#111" stroke-width="0.12">Folia wiatroizolacyjna</text>
<line x1="514.70" y1="269.90" x2="608.50" y2="269.90" stroke="#bdbdbd" stroke-width="0.35" />
<text x="521.90" y="273.28" font-size="3.6" text-anchor="end" fill="#111"  stroke="#111" stroke-width="0.12">2</text>
<text x="524.20" y="273.28" font-size="3.6" text-anchor="start" fill="#111" textLength="40.80" lengthAdjust="spacingAndGlyphs"  stroke="#111" stroke-width="0.12">Blacha Stal. Bort   SILESIA 1</text>
<line x1="514.70" y1="273.90" x2="608.50" y2="273.90" stroke="#bdbdbd" stroke-width="0.35" />
<line x1="514.40" y1="289.90" x2="608.40" y2="289.90" stroke="#bdbdbd" stroke-width="0.35" />
<text x="521.90" y="293.28" font-size="3.6" text-anchor="end" fill="#111"  stroke="#111" stroke-width="0.12">0,3</text>
<text x="524.20" y="293.28" font-size="3.6" text-anchor="start" fill="#111" textLength="83.60" lengthAdjust="spacingAndGlyphs"  stroke="#111" stroke-width="0.12">Stal nierdzewna matowa, szary antracyt - rąbek leżący</text>
<line x1="514.40" y1="293.90" x2="608.40" y2="293.90" stroke="#bdbdbd" stroke-width="0.35" />
<text x="521.90" y="297.28" font-size="3.6" text-anchor="end" fill="#111"  stroke="#111" stroke-width="0.12">0,05</text>
<text x="524.20" y="297.28" font-size="3.6" text-anchor="start" fill="#111" textLength="32.70" lengthAdjust="spacingAndGlyphs"  stroke="#111" stroke-width="0.12">Folia wiatroizolacyjna</text>
<line x1="514.40" y1="297.90" x2="608.40" y2="297.90" stroke="#bdbdbd" stroke-width="0.35" />
<text x="521.90" y="301.28" font-size="3.6" text-anchor="end" fill="#111"  stroke="#111" stroke-width="0.12">2,5</text>
<text x="524.20" y="301.28" font-size="3.6" text-anchor="start" fill="#111" textLength="33.20" lengthAdjust="spacingAndGlyphs"  stroke="#111" stroke-width="0.12">Płyta Kronopol OSB/3</text>
<line x1="514.40" y1="301.90" x2="608.40" y2="301.90" stroke="#bdbdbd" stroke-width="0.35" />
<text x="521.90" y="305.28" font-size="3.6" text-anchor="end" fill="#111"  stroke="#111" stroke-width="0.12">3</text>
<text x="524.20" y="305.28" font-size="3.6" text-anchor="start" fill="#111" textLength="72.40" lengthAdjust="spacingAndGlyphs"  stroke="#111" stroke-width="0.12">Szczelina wentylacyjna/ Drewniana konstrukcja</text>
<line x1="514.40" y1="305.90" x2="608.40" y2="305.90" stroke="#bdbdbd" stroke-width="0.35" />
<text x="521.90" y="309.28" font-size="3.6" text-anchor="end" fill="#111"  stroke="#111" stroke-width="0.12">16</text>
<text x="524.20" y="309.28" font-size="3.6" text-anchor="start" fill="#111" textLength="83.80" lengthAdjust="spacingAndGlyphs"  stroke="#111" stroke-width="0.12">Wełna drzewna Steico flex 036/ Drewniana konstrukcja</text>
<line x1="514.40" y1="309.90" x2="608.40" y2="309.90" stroke="#bdbdbd" stroke-width="0.35" />
<text x="521.90" y="313.28" font-size="3.6" text-anchor="end" fill="#111"  stroke="#111" stroke-width="0.12">10</text>
<text x="524.20" y="313.28" font-size="3.6" text-anchor="start" fill="#111" textLength="40.80" lengthAdjust="spacingAndGlyphs"  stroke="#111" stroke-width="0.12">Drewno konstrukcyjne CLT</text>
<line x1="514.40" y1="313.90" x2="608.40" y2="313.90" stroke="#bdbdbd" stroke-width="0.35" />
<text x="521.90" y="317.28" font-size="3.6" text-anchor="end" fill="#111"  stroke="#111" stroke-width="0.12">16</text>
<text x="524.20" y="317.28" font-size="3.6" text-anchor="start" fill="#111" textLength="83.80" lengthAdjust="spacingAndGlyphs"  stroke="#111" stroke-width="0.12">Wełna drzewna Steico flex 036/ Drewniana konstrukcja</text>
<line x1="514.40" y1="317.90" x2="608.40" y2="317.90" stroke="#bdbdbd" stroke-width="0.35" />
<text x="521.90" y="321.28" font-size="3.6" text-anchor="end" fill="#111"  stroke="#111" stroke-width="0.12">0,05</text>
<text x="524.20" y="321.28" font-size="3.6" text-anchor="start" fill="#111" textLength="32.70" lengthAdjust="spacingAndGlyphs"  stroke="#111" stroke-width="0.12">Folia wiatroizolacyjna</text>
<line x1="514.40" y1="321.90" x2="608.40" y2="321.90" stroke="#bdbdbd" stroke-width="0.35" />
<text x="521.90" y="325.28" font-size="3.6" text-anchor="end" fill="#111"  stroke="#111" stroke-width="0.12">3</text>
<text x="524.20" y="325.28" font-size="3.6" text-anchor="start" fill="#111" textLength="72.40" lengthAdjust="spacingAndGlyphs"  stroke="#111" stroke-width="0.12">Szczelina wentylacyjna/ Drewniana konstrukcja</text>
<line x1="514.40" y1="325.90" x2="608.40" y2="325.90" stroke="#bdbdbd" stroke-width="0.35" />
<text x="521.90" y="329.28" font-size="3.6" text-anchor="end" fill="#111"  stroke="#111" stroke-width="0.12">2</text>
<text x="524.20" y="329.28" font-size="3.6" text-anchor="start" fill="#111" textLength="41.40" lengthAdjust="spacingAndGlyphs"  stroke="#111" stroke-width="0.12">Blacha Stal. Bort   SILESIA 1</text>
<line x1="514.40" y1="329.90" x2="608.40" y2="329.90" stroke="#bdbdbd" stroke-width="0.35" />
<line x1="530.40" y1="391.50" x2="608.40" y2="391.50" stroke="#bdbdbd" stroke-width="0.35" />
<text x="537.60" y="394.88" font-size="3.6" text-anchor="end" fill="#111"  stroke="#111" stroke-width="0.12">5</text>
<text x="539.60" y="394.88" font-size="3.6" text-anchor="start" fill="#111" textLength="31.80" lengthAdjust="spacingAndGlyphs"  stroke="#111" stroke-width="0.12">Bruk klinkierowy 5x5</text>
<line x1="530.40" y1="395.50" x2="608.40" y2="395.50" stroke="#bdbdbd" stroke-width="0.35" />
<text x="537.60" y="398.88" font-size="3.6" text-anchor="end" fill="#111"  stroke="#111" stroke-width="0.12">8</text>
<text x="539.60" y="398.88" font-size="3.6" text-anchor="start" fill="#111" textLength="10.20" lengthAdjust="spacingAndGlyphs"  stroke="#111" stroke-width="0.12">Piasek</text>
<line x1="530.40" y1="399.50" x2="608.40" y2="399.50" stroke="#bdbdbd" stroke-width="0.35" />
<text x="537.60" y="402.88" font-size="3.6" text-anchor="end" fill="#111"  stroke="#111" stroke-width="0.12">0,05</text>
<text x="539.60" y="402.88" font-size="3.6" text-anchor="start" fill="#111" textLength="18.00" lengthAdjust="spacingAndGlyphs"  stroke="#111" stroke-width="0.12">Geowłóknina</text>
<line x1="530.40" y1="403.50" x2="608.40" y2="403.50" stroke="#bdbdbd" stroke-width="0.35" />
<text x="537.60" y="406.88" font-size="3.6" text-anchor="end" fill="#111"  stroke="#111" stroke-width="0.12">14</text>
<text x="539.60" y="406.88" font-size="3.6" text-anchor="start" fill="#111" textLength="6.80" lengthAdjust="spacingAndGlyphs"  stroke="#111" stroke-width="0.12">Żwir</text>
<line x1="530.40" y1="407.50" x2="608.40" y2="407.50" stroke="#bdbdbd" stroke-width="0.35" />
<text x="537.60" y="410.88" font-size="3.6" text-anchor="end" fill="#111"  stroke="#111" stroke-width="0.12">0,05</text>
<text x="539.60" y="410.88" font-size="3.6" text-anchor="start" fill="#111" textLength="18.00" lengthAdjust="spacingAndGlyphs"  stroke="#111" stroke-width="0.12">Geowłóknina</text>
<line x1="530.40" y1="411.50" x2="608.40" y2="411.50" stroke="#bdbdbd" stroke-width="0.35" />
<text x="539.60" y="414.88" font-size="3.6" text-anchor="start" fill="#111" textLength="21.20" lengthAdjust="spacingAndGlyphs"  stroke="#111" stroke-width="0.12">Grunt rodzimy</text>
<line x1="530.40" y1="415.50" x2="608.40" y2="415.50" stroke="#bdbdbd" stroke-width="0.35" />
<line x1="530.40" y1="391.40" x2="530.40" y2="415.60" stroke="#8c8c8c" stroke-width="0.35" />
<line x1="515.00" y1="423.30" x2="592.40" y2="423.30" stroke="#bdbdbd" stroke-width="0.35" />
<text x="521.90" y="426.68" font-size="3.6" text-anchor="end" fill="#111"  stroke="#111" stroke-width="0.12">2</text>
<text x="524.20" y="426.68" font-size="3.6" text-anchor="start" fill="#111" textLength="43.80" lengthAdjust="spacingAndGlyphs"  stroke="#111" stroke-width="0.12">Blacha Stal. Bort   MAZURIA 1</text>
<line x1="515.00" y1="427.30" x2="592.40" y2="427.30" stroke="#bdbdbd" stroke-width="0.35" />
<text x="521.90" y="430.68" font-size="3.6" text-anchor="end" fill="#111"  stroke="#111" stroke-width="0.12">8</text>
<text x="524.20" y="430.68" font-size="3.6" text-anchor="start" fill="#111" textLength="34.40" lengthAdjust="spacingAndGlyphs"  stroke="#111" stroke-width="0.12">Konstrukcja drewniana</text>
<line x1="515.00" y1="431.30" x2="592.40" y2="431.30" stroke="#bdbdbd" stroke-width="0.35" />
<text x="521.90" y="434.68" font-size="3.6" text-anchor="end" fill="#111"  stroke="#111" stroke-width="0.12">2</text>
<text x="524.20" y="434.68" font-size="3.6" text-anchor="start" fill="#111" textLength="47.80" lengthAdjust="spacingAndGlyphs"  stroke="#111" stroke-width="0.12">Betonowe stopy fundamentowe</text>
<line x1="515.00" y1="435.30" x2="592.40" y2="435.30" stroke="#bdbdbd" stroke-width="0.35" />
<text x="521.90" y="438.68" font-size="3.6" text-anchor="end" fill="#111"  stroke="#111" stroke-width="0.12">0,05</text>
<text x="524.20" y="438.68" font-size="3.6" text-anchor="start" fill="#111" textLength="67.80" lengthAdjust="spacingAndGlyphs"  stroke="#111" stroke-width="0.12">Geowłóknina/ Betonowe stopy fundamentowe</text>
<line x1="515.00" y1="439.30" x2="592.40" y2="439.30" stroke="#bdbdbd" stroke-width="0.35" />
<text x="521.90" y="442.68" font-size="3.6" text-anchor="end" fill="#111"  stroke="#111" stroke-width="0.12">14</text>
<text x="524.20" y="442.68" font-size="3.6" text-anchor="start" fill="#111" textLength="56.20" lengthAdjust="spacingAndGlyphs"  stroke="#111" stroke-width="0.12">Żwir/ betonowe stopy fundamentowe</text>
<line x1="515.00" y1="443.30" x2="592.40" y2="443.30" stroke="#bdbdbd" stroke-width="0.35" />
<text x="521.90" y="446.68" font-size="3.6" text-anchor="end" fill="#111"  stroke="#111" stroke-width="0.12">0,05</text>
<text x="524.20" y="446.68" font-size="3.6" text-anchor="start" fill="#111" textLength="17.80" lengthAdjust="spacingAndGlyphs"  stroke="#111" stroke-width="0.12">Geowłóknina</text>
<line x1="515.00" y1="447.30" x2="592.40" y2="447.30" stroke="#bdbdbd" stroke-width="0.35" />
<text x="521.90" y="450.68" font-size="3.6" text-anchor="end" fill="#111"  stroke="#111" stroke-width="0.12">14</text>
<text x="524.20" y="450.68" font-size="3.6" text-anchor="start" fill="#111" textLength="5.80" lengthAdjust="spacingAndGlyphs"  stroke="#111" stroke-width="0.12">Żwir</text>
<line x1="515.00" y1="451.30" x2="592.40" y2="451.30" stroke="#bdbdbd" stroke-width="0.35" />
<text x="524.20" y="454.68" font-size="3.6" text-anchor="start" fill="#111" textLength="21.40" lengthAdjust="spacingAndGlyphs"  stroke="#111" stroke-width="0.12">Grunt rodzimy</text>
<line x1="515.00" y1="455.30" x2="592.40" y2="455.30" stroke="#bdbdbd" stroke-width="0.35" />
<line x1="592.40" y1="423.00" x2="592.40" y2="461.40" stroke="#8c8c8c" stroke-width="0.4" />
<line x1="608.40" y1="423.00" x2="608.40" y2="470.00" stroke="#777" stroke-width="0.4" />
<rect x="528.00" y="457.00" width="64.40" height="4.20" fill="none" stroke="#777" stroke-width="0.4" />
<text x="528.80" y="460.35" font-size="3.6" text-anchor="start" fill="#111" textLength="62.80" lengthAdjust="spacingAndGlyphs"  stroke="#111" stroke-width="0.12">Fleksowana płyta fundamentowa - dolna 8cm</text>
<line x1="528.00" y1="461.50" x2="624.30" y2="461.50" stroke="#999" stroke-width="0.4" />
<rect x="544.40" y="464.40" width="48.00" height="9.00" fill="none" stroke="#999" stroke-width="0.35" />
<text x="545.20" y="468.20" font-size="3.6" text-anchor="start" fill="#111" textLength="38.00" lengthAdjust="spacingAndGlyphs"  stroke="#111" stroke-width="0.12">Styropian XPS 032 10cm</text>
<text x="545.20" y="472.40" font-size="3.6" text-anchor="start" fill="#111" textLength="46.60" lengthAdjust="spacingAndGlyphs"  stroke="#111" stroke-width="0.12">szczelinowany licuj łubaikowg</text>
<line x1="544.40" y1="473.40" x2="624.30" y2="473.40" stroke="#aaa" stroke-width="0.35" />
<rect x="559.40" y="475.60" width="33.00" height="12.80" fill="none" stroke="#b5b5b5" stroke-width="0.35" />
<text x="560.40" y="479.20" font-size="3.6" text-anchor="start" fill="#111" textLength="15.20" lengthAdjust="spacingAndGlyphs"  stroke="#111" stroke-width="0.12">Krawężnik</text>
<text x="560.40" y="483.20" font-size="3.6" text-anchor="start" fill="#111" textLength="14.60" lengthAdjust="spacingAndGlyphs"  stroke="#111" stroke-width="0.12">klinkierowy</text>
<text x="560.40" y="487.20" font-size="3.6" text-anchor="start" fill="#111" textLength="27.60" lengthAdjust="spacingAndGlyphs"  stroke="#111" stroke-width="0.12">Bytne podłotczne</text>
<text x="481.40" y="483.00" font-size="3.6" text-anchor="start" fill="#111" textLength="48.60" lengthAdjust="spacingAndGlyphs"  stroke="#111" stroke-width="0.12">Betonowe stopy fundamentowe</text>
<text x="481.40" y="487.00" font-size="3.6" text-anchor="start" fill="#111" textLength="40.00" lengthAdjust="spacingAndGlyphs"  stroke="#111" stroke-width="0.12">Zamocowane papą w płynie</text>
<text x="474.60" y="486.60" font-size="2.6" text-anchor="start" fill="#666" textLength="5.60" lengthAdjust="spacingAndGlyphs"  stroke="#666" stroke-width="0.12">-0,15</text>
<line x1="481.00" y1="480.60" x2="481.00" y2="488.40" stroke="#c8c8c8" stroke-width="0.35" />
</g>
<g id="right">
<line x1="850.60" y1="40.50" x2="850.60" y2="598.00" stroke="#a2a2a2" stroke-width="0.75" stroke-dasharray="6.3 2.2"/>
<line x1="870.40" y1="40.50" x2="870.40" y2="598.00" stroke="#a8a8a8" stroke-width="0.75" stroke-dasharray="6.3 2.2"/>
<line x1="636.00" y1="60.00" x2="636.00" y2="180.00" stroke="#efefef" stroke-width="0.6" stroke-dasharray="6.3 2.2"/>
<path d="M636.6 562 L648.9 575 L679.4 575 L679.4 578.8 L737.5 578.8 L737.5 575.7 L784 533.2 L870.4 533.2 L870.4 598 L636.6 598 Z" fill="url(#earth)"/>
<path d="M636.6 497.2 L686.6 497.2 L682.4 504 L682.4 575 L648.9 575 L636.6 561.8 Z" fill="url(#gravel)"/>
<rect x="636.6" y="491.2" width="62.80" height="5.6" fill="url(#lh)"/>
<path d="M706 498.6 L870.4 498.6 L870.4 513.6 L787.4 513.6 L734.5 563.5 L729 566 L692.6 566 L692.6 507.4 L699.4 499 Z" fill="url(#conc)"/>
<path d="M682.6 504.7 L690.4 496.9 L699.4 496.9 L699.4 498.6 L692.8 507.4 L692.8 566.2 L682.6 566.2 Z" fill="url(#xpsv)"/>
<rect x="682.6" y="566.3" width="54.6" height="9.5" fill="url(#xpsh)"/>
<path d="M787.4 514 L870.4 514 L870.4 524.4 L783.2 524.4 Z" fill="url(#xpsd)"/>
<path d="M787.4 514 L783.2 524.4 L737.4 567.5 L729.8 566.2 L734.5 563.5 Z" fill="url(#xpsdiag)"/>
<path d="M783.2 524.6 L870.4 524.6 L870.4 532.4 L784 532.4 L738 575 L737.4 567.5 Z" fill="#f7f7f7"/>
<line x1="783.20" y1="524.60" x2="870.40" y2="524.60" stroke="#bbb" stroke-width="0.4" />
<line x1="783.20" y1="524.60" x2="737.40" y2="567.50" stroke="#bbb" stroke-width="0.4" />
<line x1="682.60" y1="575.90" x2="737.40" y2="575.90" stroke="#999" stroke-width="0.4" />
<rect x="707" y="490.5" width="163.40" height="4.8" fill="url(#lh)"/>
<rect x="708" y="497.9" width="162.40" height="2.3" fill="url(#lh)"/>
<line x1="709.00" y1="496.60" x2="870.40" y2="496.60" stroke="#8f8f8f" stroke-width="1.9" stroke-dasharray="3.2 0.6"/>
<line x1="709.00" y1="496.60" x2="870.40" y2="496.60" stroke="#fff" stroke-width="1.1" stroke-dasharray="2.6 1.2" stroke-dashoffset="-0.3"/>
<line x1="712.00" y1="500.70" x2="870.40" y2="500.70" stroke="#9a9a9a" stroke-width="1.3" stroke-dasharray="3.2 0.6"/>
<line x1="712.00" y1="500.70" x2="870.40" y2="500.70" stroke="#fff" stroke-width="0.6" stroke-dasharray="2.6 1.2" stroke-dashoffset="-0.3"/>
<path d="M710 495.4 Q706.6 495.4 706.6 498.4 Q706.6 501.6 711.5 501.6" fill="none" stroke="#777" stroke-width="0.5"/>
<line x1="705.80" y1="489.90" x2="870.40" y2="489.90" stroke="#4a4a4a" stroke-width="1.3" />
<path d="M787.40 513.60 L870.40 513.60" fill="none" stroke="#161616" stroke-width="1.15" stroke-dasharray="3.6 1.5"/>
<path d="M787.40 513.60 L734.50 563.50 L729.50 566.20 L692.60 566.20 L692.60 505.50" fill="none" stroke="#161616" stroke-width="1.15" stroke-dasharray="3.6 1.5"/>
<path d="M636.60 561.60 L648.90 574.90 L679.40 574.90 L679.40 578.70 L737.50 578.70 L737.50 575.60 L784.00 533.10 L870.40 533.10" fill="none" stroke="#161616" stroke-width="1.5" />
<line x1="682.60" y1="504.50" x2="682.60" y2="575.50" stroke="#222" stroke-width="1.1" />
<line x1="636.60" y1="490.50" x2="699.40" y2="490.50" stroke="#161616" stroke-width="1.3" />
<path d="M636.60 497.10 L690.20 497.10 L682.80 504.60" fill="none" stroke="#161616" stroke-width="1.1" stroke-dasharray="3.6 1.5"/>
<line x1="636.60" y1="516.20" x2="682.40" y2="516.20" stroke="#161616" stroke-width="1.1" stroke-dasharray="3.6 1.5"/>
<path d="M699.40 498.40 L697.60 502.00 L692.80 507.40" fill="none" stroke="#161616" stroke-width="1.2" />
<rect x="699.60" y="477.20" width="5.60" height="21.00" fill="#fff" stroke="#333" stroke-width="0.6" />
<path d="M699.90 489.60 L699.90 498.00 L705.40 498.00" fill="none" stroke="#161616" stroke-width="1.3" />
<line x1="705.30" y1="489.60" x2="705.30" y2="498.00" stroke="#161616" stroke-width="0.7" />
<path d="M726.40 498.60 L730.00 498.60 L728.20 501.60 Z" fill="#111" stroke="#111" stroke-width="0.3" />
<path d="M726.40 510.20 L730.00 510.20 L728.20 513.20 Z" fill="#111" stroke="#111" stroke-width="0.3" />
<path d="M726.40 529.30 L730.00 529.30 L728.20 532.30 Z" fill="#111" stroke="#111" stroke-width="0.3" />
<path d="M726.40 562.30 L730.00 562.30 L728.20 565.30 Z" fill="#111" stroke="#111" stroke-width="0.3" />
<path d="M726.40 575.00 L730.00 575.00 L728.20 578.00 Z" fill="#111" stroke="#111" stroke-width="0.3" />
<text x="731.20" y="497.60" font-size="2.7" text-anchor="start" fill="#444" textLength="5.60" lengthAdjust="spacingAndGlyphs"  stroke="#444" stroke-width="0.12">-0,15</text>
<text x="731.20" y="509.00" font-size="2.7" text-anchor="start" fill="#444" textLength="5.60" lengthAdjust="spacingAndGlyphs"  stroke="#444" stroke-width="0.12">-0,36</text>
<text x="731.20" y="528.40" font-size="2.7" text-anchor="start" fill="#444" textLength="5.60" lengthAdjust="spacingAndGlyphs"  stroke="#444" stroke-width="0.12">-0,65</text>
<text x="731.00" y="562.40" font-size="2.5" text-anchor="start" fill="#666" textLength="5.20" lengthAdjust="spacingAndGlyphs"  stroke="#666" stroke-width="0.12">-1,36</text>
<text x="731.00" y="575.20" font-size="2.5" text-anchor="start" fill="#666" textLength="5.20" lengthAdjust="spacingAndGlyphs"  stroke="#666" stroke-width="0.12">-1,46</text>
<path d="M645.70 512.00 L649.30 512.00 L647.50 515.00 Z" fill="#111" stroke="#111" stroke-width="0.3" />
<text x="650.60" y="511.60" font-size="2.7" text-anchor="start" fill="#444" textLength="5.80" lengthAdjust="spacingAndGlyphs"  stroke="#444" stroke-width="0.12">-0,47</text>
<text x="654.60" y="571.20" font-size="2.6" text-anchor="start" fill="#555" textLength="5.40" lengthAdjust="spacingAndGlyphs"  stroke="#555" stroke-width="0.12">-1,86</text>
<path d="M648.00 573.40 L649.60 575.40 L651.20 573.40 Z" fill="#111" stroke="none" stroke-width="0.6" />
<text x="782.00" y="575.20" font-size="2.6" text-anchor="start" fill="#777" textLength="27.40" lengthAdjust="spacingAndGlyphs"  stroke="#777" stroke-width="0.12">Chudy beton 5cm</text>
<text x="731.00" y="485.00" font-size="3.0" text-anchor="start" fill="#333" textLength="6.60" lengthAdjust="spacingAndGlyphs"  stroke="#333" stroke-width="0.12">0,00</text>
<line x1="725.80" y1="486.30" x2="738.60" y2="486.30" stroke="#aaa" stroke-width="0.35" />
<path d="M726.84 488.90 L729.56 488.90 L728.20 486.70 Z" fill="none" stroke="#999" stroke-width="0.35" />
<text x="650.70" y="486.00" font-size="3.0" text-anchor="start" fill="#333" textLength="7.00" lengthAdjust="spacingAndGlyphs"  stroke="#333" stroke-width="0.12">-0,21</text>
<line x1="662.80" y1="487.50" x2="667.20" y2="483.00" stroke="#999" stroke-width="0.4" />
<line x1="645.50" y1="486.30" x2="659.00" y2="486.30" stroke="#aaa" stroke-width="0.35" />
<path d="M646.64 489.40 L649.36 489.40 L648.00 487.20 Z" fill="none" stroke="#999" stroke-width="0.35" />
<text x="675.50" y="486.40" font-size="3.0" text-anchor="start" fill="#333" textLength="7.20" lengthAdjust="spacingAndGlyphs"  stroke="#333" stroke-width="0.12">2,0%</text>
<path d="M636.60 461.80 L648.50 461.80 L674.90 487.60 L694.70 487.60" fill="none" stroke="#959595" stroke-width="0.5" />
<path d="M636.60 473.50 L646.30 473.50 L666.10 495.20" fill="none" stroke="#959595" stroke-width="0.5" />
</g>
<g id="rightupper">
<rect x="636.6" y="191.3" width="69.00" height="6.2" fill="url(#ins)"/>
<rect x="636.6" y="213.1" width="58.80" height="5.4" fill="url(#ins2)"/>
<rect x="636.60" y="198.00" width="70.80" height="2.50" fill="#b9b9b9" stroke="#7c7c7c" stroke-width="0.35" />
<line x1="636.60" y1="190.40" x2="690.00" y2="190.40" stroke="#666" stroke-width="0.4" />
<line x1="636.60" y1="203.90" x2="716.00" y2="203.90" stroke="#cfcfcf" stroke-width="0.4" />
<line x1="636.60" y1="205.80" x2="716.00" y2="205.80" stroke="#8f8f8f" stroke-width="0.45" />
<line x1="636.60" y1="207.80" x2="716.00" y2="207.80" stroke="#d5d5d5" stroke-width="0.4" />
<line x1="636.60" y1="211.40" x2="707.00" y2="211.40" stroke="#555" stroke-width="0.4" />
<line x1="636.60" y1="212.60" x2="707.00" y2="212.60" stroke="#777" stroke-width="0.4" />
<line x1="646.00" y1="198.10" x2="646.00" y2="200.30" stroke="#aaa" stroke-width="0.5" />
<line x1="646.00" y1="204.70" x2="646.00" y2="206.90" stroke="#aaa" stroke-width="0.5" />
<line x1="646.00" y1="210.90" x2="646.00" y2="213.10" stroke="#aaa" stroke-width="0.5" />
<line x1="656.00" y1="198.10" x2="656.00" y2="200.30" stroke="#aaa" stroke-width="0.5" />
<line x1="656.00" y1="204.70" x2="656.00" y2="206.90" stroke="#aaa" stroke-width="0.5" />
<line x1="656.00" y1="210.90" x2="656.00" y2="213.10" stroke="#aaa" stroke-width="0.5" />
<line x1="668.00" y1="198.10" x2="668.00" y2="200.30" stroke="#aaa" stroke-width="0.5" />
<line x1="668.00" y1="204.70" x2="668.00" y2="206.90" stroke="#aaa" stroke-width="0.5" />
<line x1="668.00" y1="210.90" x2="668.00" y2="213.10" stroke="#aaa" stroke-width="0.5" />
<line x1="687.00" y1="198.10" x2="687.00" y2="200.30" stroke="#444" stroke-width="0.5" />
<line x1="687.00" y1="204.70" x2="687.00" y2="206.90" stroke="#444" stroke-width="0.5" />
<line x1="687.00" y1="210.90" x2="687.00" y2="213.10" stroke="#444" stroke-width="0.5" />
<line x1="636.60" y1="189.10" x2="691.40" y2="189.10" stroke="#161616" stroke-width="1.9" />
<line x1="636.60" y1="222.00" x2="692.20" y2="222.00" stroke="#161616" stroke-width="1.7" />
<line x1="636.60" y1="219.50" x2="694.00" y2="219.50" stroke="#111" stroke-width="1.2" stroke-dasharray="4.3 1.7"/>
<rect x="697.4" y="157.4" width="137.2" height="13.8" fill="url(#wave)"/>
<rect x="834.6" y="154.6" width="8.2" height="16.8" fill="url(#wavev)"/>
<rect x="692.20" y="155.20" width="3.40" height="33.00" fill="url(#dots2)" stroke="none" stroke-width="0.6" />
<rect x="697.2" y="171.4" width="8.4" height="16.6" fill="url(#wavev)"/>
<rect x="696.6" y="203.4" width="8.6" height="98.4" fill="url(#wavev)"/>
<rect x="693.00" y="222.60" width="2.70" height="79.40" fill="url(#dots4)" stroke="none" stroke-width="0.6" />
<line x1="705.60" y1="171.70" x2="843.00" y2="171.70" stroke="#555" stroke-width="0.45" />
<line x1="705.60" y1="173.90" x2="843.00" y2="173.90" stroke="#999" stroke-width="0.4" />
<line x1="705.60" y1="177.90" x2="843.00" y2="177.90" stroke="#777" stroke-width="0.4" />
<line x1="705.60" y1="179.30" x2="843.00" y2="179.30" stroke="#aaa" stroke-width="0.4" />
<line x1="705.60" y1="181.20" x2="843.00" y2="181.20" stroke="#bbb" stroke-width="0.4" />
<line x1="705.60" y1="185.30" x2="843.00" y2="185.30" stroke="#888" stroke-width="0.4" />
<rect x="718.80" y="171.90" width="124.20" height="1.90" fill="#d9d9d9" stroke="none" stroke-width="0.6" />
<line x1="728.50" y1="171.80" x2="728.50" y2="173.80" stroke="#666" stroke-width="0.45" />
<line x1="728.50" y1="177.60" x2="728.50" y2="179.60" stroke="#666" stroke-width="0.45" />
<line x1="728.50" y1="184.30" x2="728.50" y2="186.30" stroke="#666" stroke-width="0.45" />
<line x1="738.60" y1="171.80" x2="738.60" y2="173.80" stroke="#666" stroke-width="0.45" />
<line x1="738.60" y1="177.60" x2="738.60" y2="179.60" stroke="#666" stroke-width="0.45" />
<line x1="738.60" y1="184.30" x2="738.60" y2="186.30" stroke="#666" stroke-width="0.45" />
<line x1="756.00" y1="171.80" x2="756.00" y2="173.80" stroke="#666" stroke-width="0.45" />
<line x1="756.00" y1="177.60" x2="756.00" y2="179.60" stroke="#666" stroke-width="0.45" />
<line x1="756.00" y1="184.30" x2="756.00" y2="186.30" stroke="#666" stroke-width="0.45" />
<line x1="764.50" y1="171.80" x2="764.50" y2="173.80" stroke="#666" stroke-width="0.45" />
<line x1="764.50" y1="177.60" x2="764.50" y2="179.60" stroke="#666" stroke-width="0.45" />
<line x1="764.50" y1="184.30" x2="764.50" y2="186.30" stroke="#666" stroke-width="0.45" />
<line x1="777.00" y1="171.80" x2="777.00" y2="173.80" stroke="#666" stroke-width="0.45" />
<line x1="777.00" y1="177.60" x2="777.00" y2="179.60" stroke="#666" stroke-width="0.45" />
<line x1="777.00" y1="184.30" x2="777.00" y2="186.30" stroke="#666" stroke-width="0.45" />
<line x1="795.00" y1="171.80" x2="795.00" y2="173.80" stroke="#666" stroke-width="0.45" />
<line x1="795.00" y1="177.60" x2="795.00" y2="179.60" stroke="#666" stroke-width="0.45" />
<line x1="795.00" y1="184.30" x2="795.00" y2="186.30" stroke="#666" stroke-width="0.45" />
<line x1="815.30" y1="171.80" x2="815.30" y2="173.80" stroke="#666" stroke-width="0.45" />
<line x1="815.30" y1="177.60" x2="815.30" y2="179.60" stroke="#666" stroke-width="0.45" />
<line x1="815.30" y1="184.30" x2="815.30" y2="186.30" stroke="#666" stroke-width="0.45" />
<line x1="830.00" y1="171.80" x2="830.00" y2="173.80" stroke="#666" stroke-width="0.45" />
<line x1="830.00" y1="177.60" x2="830.00" y2="179.60" stroke="#666" stroke-width="0.45" />
<line x1="830.00" y1="184.30" x2="830.00" y2="186.30" stroke="#666" stroke-width="0.45" />
<line x1="714.00" y1="171.80" x2="714.00" y2="191.60" stroke="#111" stroke-width="1.0" stroke-dasharray="3.0 1.3"/>
<line x1="709.70" y1="188.00" x2="709.70" y2="205.80" stroke="#444" stroke-width="1.5" stroke-dasharray="3.4 1.3"/>
<line x1="712.50" y1="188.00" x2="712.50" y2="231.00" stroke="#111" stroke-width="1.0" stroke-dasharray="3.4 1.3"/>
<line x1="689.60" y1="153.90" x2="833.40" y2="153.90" stroke="#161616" stroke-width="1.9" />
<path d="M832.90 154.80 L832.90 149.20 L859.00 149.20" fill="none" stroke="#161616" stroke-width="1.15" />
<line x1="690.60" y1="152.90" x2="690.60" y2="190.00" stroke="#161616" stroke-width="2.0" />
<path d="M690.20 152.60 L690.20 150.60 L695.40 146.00" fill="none" stroke="#161616" stroke-width="0.9" />
<rect x="838.30" y="144.30" width="6.00" height="5.60" fill="#fff" stroke="#161616" stroke-width="0.9" />
<line x1="718.00" y1="187.60" x2="843.60" y2="187.60" stroke="#161616" stroke-width="1.4" />
<line x1="718.00" y1="219.00" x2="843.60" y2="219.00" stroke="#161616" stroke-width="1.3" />
<line x1="718.80" y1="216.80" x2="843.00" y2="216.80" stroke="#999" stroke-width="0.4" />
<line x1="738.60" y1="188.00" x2="738.60" y2="218.50" stroke="#9a9a9a" stroke-width="0.5" />
<line x1="777.00" y1="188.00" x2="777.00" y2="216.80" stroke="#9c9c9c" stroke-width="1.1" />
<line x1="815.30" y1="188.00" x2="815.30" y2="216.80" stroke="#9c9c9c" stroke-width="1.1" />
<line x1="764.50" y1="155.00" x2="764.50" y2="323.40" stroke="#aaa" stroke-width="0.4" />
<line x1="845.80" y1="150.50" x2="845.80" y2="234.50" stroke="#a2a2a2" stroke-width="0.4" />
<line x1="851.10" y1="150.50" x2="851.10" y2="234.50" stroke="#a2a2a2" stroke-width="0.4" />
<line x1="854.30" y1="150.50" x2="854.30" y2="234.50" stroke="#a2a2a2" stroke-width="0.4" />
<line x1="845.80" y1="158.00" x2="854.30" y2="158.00" stroke="#c4c4c4" stroke-width="0.35" />
<line x1="845.80" y1="166.00" x2="854.30" y2="166.00" stroke="#c4c4c4" stroke-width="0.35" />
<line x1="845.80" y1="176.00" x2="854.30" y2="176.00" stroke="#c4c4c4" stroke-width="0.35" />
<line x1="845.80" y1="200.00" x2="854.30" y2="200.00" stroke="#c4c4c4" stroke-width="0.35" />
<line x1="845.80" y1="210.00" x2="854.30" y2="210.00" stroke="#c4c4c4" stroke-width="0.35" />
<line x1="845.80" y1="222.00" x2="854.30" y2="222.00" stroke="#c4c4c4" stroke-width="0.35" />
<line x1="845.80" y1="229.00" x2="854.30" y2="229.00" stroke="#c4c4c4" stroke-width="0.35" />
<line x1="848.70" y1="170.50" x2="848.70" y2="197.00" stroke="#111" stroke-width="1.0" stroke-dasharray="3.4 1.5"/>
<line x1="857.20" y1="164.90" x2="845.30" y2="181.90" stroke="#161616" stroke-width="0.9" />
<line x1="857.70" y1="148.60" x2="857.70" y2="235.90" stroke="#161616" stroke-width="1.25" />
<line x1="843.30" y1="187.20" x2="843.30" y2="235.90" stroke="#161616" stroke-width="1.1" />
<line x1="842.80" y1="235.40" x2="858.30" y2="235.40" stroke="#161616" stroke-width="1.25" />
<line x1="856.00" y1="172.00" x2="856.00" y2="190.00" stroke="#9a9a9a" stroke-width="1.1" />
<line x1="705.30" y1="171.60" x2="705.30" y2="302.00" stroke="#888" stroke-width="0.45" />
<line x1="707.60" y1="187.60" x2="707.60" y2="302.00" stroke="#a0a0a0" stroke-width="0.4" />
<line x1="711.00" y1="222.00" x2="711.00" y2="302.00" stroke="#8a8a8a" stroke-width="0.45" />
<line x1="712.40" y1="231.00" x2="712.40" y2="302.00" stroke="#9a9a9a" stroke-width="0.4" stroke-dasharray="4 1.5"/>
<line x1="713.90" y1="222.00" x2="713.90" y2="302.00" stroke="#aaa" stroke-width="0.4" />
<line x1="716.50" y1="187.60" x2="716.50" y2="302.00" stroke="#c4c4c4" stroke-width="0.4" />
<line x1="707.60" y1="230.70" x2="716.50" y2="230.70" stroke="#8a8a8a" stroke-width="0.45" />
<line x1="707.60" y1="240.20" x2="716.50" y2="240.20" stroke="#8a8a8a" stroke-width="0.45" />
<line x1="707.60" y1="260.90" x2="716.50" y2="260.90" stroke="#8a8a8a" stroke-width="0.45" />
<line x1="707.60" y1="281.00" x2="716.50" y2="281.00" stroke="#8a8a8a" stroke-width="0.45" />
<line x1="690.80" y1="221.20" x2="690.80" y2="303.00" stroke="#161616" stroke-width="1.2" />
<line x1="718.50" y1="187.00" x2="718.50" y2="303.00" stroke="#161616" stroke-width="1.25" />
<line x1="690.20" y1="302.40" x2="699.80" y2="302.40" stroke="#161616" stroke-width="1.2" />
<line x1="705.00" y1="302.40" x2="719.10" y2="302.40" stroke="#161616" stroke-width="1.2" />
<rect x="699.50" y="300.20" width="5.80" height="5.50" fill="#fff" stroke="#161616" stroke-width="0.9" />
<path d="M710.60 302.80 L713.60 302.80 L712.10 305.00 Z" fill="#111" stroke="none" stroke-width="0.6" />
<line x1="690.40" y1="303.40" x2="690.40" y2="489.80" stroke="#8c8c8c" stroke-width="0.5" />
<line x1="718.30" y1="303.40" x2="718.30" y2="489.00" stroke="#d8d8d8" stroke-width="0.4" />
<rect x="700.60" y="305.60" width="2.30" height="171.60" fill="#dcdcdc" stroke="none" stroke-width="0.6" />
<line x1="700.60" y1="305.60" x2="700.60" y2="477.20" stroke="#8a8a8a" stroke-width="0.5" />
<line x1="702.90" y1="305.60" x2="702.90" y2="477.20" stroke="#8a8a8a" stroke-width="0.5" />
<line x1="704.70" y1="433.50" x2="704.70" y2="477.20" stroke="#aaa" stroke-width="0.45" />
<path d="M699.30 360.60 L703.40 360.60 L703.40 359.20 L706.40 359.20 L706.40 362.40 L703.90 362.40 L703.90 367.60 L699.30 367.60 Z" fill="#fff" stroke="#222" stroke-width="0.6" />
<path d="M697.4 424.6 L699.4 424.6 L699.0 428 L697.8 428 Z" fill="none" stroke="#aaa" stroke-width="0.35"/>
<path d="M704.6 424.6 L706.6 424.6 L706.2 428 L705.0 428 Z" fill="none" stroke="#aaa" stroke-width="0.35"/>
<rect x="700.60" y="430.60" width="2.60" height="2.80" fill="none" stroke="#aaa" stroke-width="0.35" />
<rect x="819.6" y="64" width="14.6" height="28.2" fill="url(#wavev3)"/>
<rect x="834.5" y="80.2" width="9.6" height="13" fill="url(#wavev4)"/>
<rect x="834.4" y="63.9" width="36.00" height="16.2" fill="url(#wave2)"/>
<line x1="816.00" y1="63.90" x2="870.40" y2="63.90" stroke="#888" stroke-width="0.4" />
<line x1="844.50" y1="80.40" x2="870.40" y2="80.40" stroke="#777" stroke-width="0.4" />
<line x1="844.50" y1="82.30" x2="870.40" y2="82.30" stroke="#bbb" stroke-width="0.4" />
<line x1="844.50" y1="86.00" x2="870.40" y2="86.00" stroke="#999" stroke-width="0.4" />
<line x1="844.50" y1="88.40" x2="870.40" y2="88.40" stroke="#999" stroke-width="0.4" />
<line x1="844.20" y1="80.40" x2="844.20" y2="94.50" stroke="#555" stroke-width="0.5" />
<line x1="834.30" y1="64.00" x2="834.30" y2="93.00" stroke="#999" stroke-width="0.45" />
<line x1="813.10" y1="60.80" x2="870.40" y2="60.80" stroke="#161616" stroke-width="2.0" />
<line x1="814.40" y1="59.80" x2="814.40" y2="96.00" stroke="#161616" stroke-width="1.9" />
<line x1="813.50" y1="95.20" x2="870.40" y2="95.20" stroke="#161616" stroke-width="1.5" />
<line x1="813.30" y1="57.40" x2="813.30" y2="61.00" stroke="#161616" stroke-width="0.9" />
<path d="M818.60 63.20 L818.60 92.00 L834.70 92.00" fill="none" stroke="#111" stroke-width="1.0" stroke-dasharray="3.4 1.4"/>
<rect x="838.20" y="93.50" width="6.20" height="4.80" fill="#fff" stroke="#161616" stroke-width="0.9" />
<rect x="839.60" y="98.40" width="3.20" height="45.80" fill="#cdcdcd" stroke="none" stroke-width="0.6" />
<line x1="814.50" y1="96.00" x2="814.50" y2="153.00" stroke="#b5b5b5" stroke-width="0.4" />
<line x1="857.90" y1="96.00" x2="857.90" y2="148.60" stroke="#aaa" stroke-width="0.45" />
<line x1="844.40" y1="98.40" x2="844.40" y2="144.20" stroke="#ddd" stroke-width="0.4" />
</g>
<g id="rightlabels">
<rect x="719.40" y="79.30" width="58.60" height="4.70" fill="none" stroke="#777" stroke-width="0.4" />
<text x="720.20" y="82.90" font-size="3.6" text-anchor="start" fill="#111" textLength="57.00" lengthAdjust="spacingAndGlyphs"  stroke="#111" stroke-width="0.12">Wełna drzewna Steico flex 038 24cm</text>
<line x1="778.00" y1="84.30" x2="815.00" y2="84.30" stroke="#8a8a8a" stroke-width="0.4" />
<rect x="719.40" y="94.80" width="47.80" height="4.30" fill="none" stroke="#777" stroke-width="0.4" />
<text x="720.20" y="98.20" font-size="3.6" text-anchor="start" fill="#111" textLength="46.20" lengthAdjust="spacingAndGlyphs"  stroke="#111" stroke-width="0.12">Okno Aluprof Mb 104 Passive</text>
<line x1="767.20" y1="99.30" x2="836.40" y2="99.30" stroke="#8a8a8a" stroke-width="0.4" />
<line x1="829.50" y1="104.00" x2="840.20" y2="113.80" stroke="#777" stroke-width="0.4" />
<path d="M840.20 113.80 L838.35 113.04 L839.28 112.03 Z" fill="#222" stroke="none" stroke-width="0.6" />
<text x="720.20" y="113.20" font-size="3.6" text-anchor="start" fill="#111" textLength="28.80" lengthAdjust="spacingAndGlyphs"  stroke="#111" stroke-width="0.12">Parapet drewniany</text>
<rect x="719.40" y="121.60" width="42.60" height="4.40" fill="none" stroke="#777" stroke-width="0.4" />
<text x="720.20" y="125.05" font-size="3.6" text-anchor="start" fill="#111" textLength="41.00" lengthAdjust="spacingAndGlyphs"  stroke="#111" stroke-width="0.12">Kontrłaty drewniane 5x6cm</text>
<path d="M762.00 126.20 L768.60 126.20 L796.80 153.00" fill="none" stroke="#8a8a8a" stroke-width="0.4" />
<line x1="820.50" y1="114.60" x2="851.70" y2="146.70" stroke="#8a8a8a" stroke-width="0.4" />
<rect x="719.40" y="141.00" width="52.90" height="4.20" fill="none" stroke="#777" stroke-width="0.4" />
<text x="720.20" y="144.35" font-size="3.6" text-anchor="start" fill="#111" textLength="51.30" lengthAdjust="spacingAndGlyphs"  stroke="#111" stroke-width="0.12">Krawędziowa obróbka blacharska</text>
<text x="730.80" y="148.40" font-size="3.0" text-anchor="start" fill="#111" textLength="6.20" lengthAdjust="spacingAndGlyphs"  stroke="#111" stroke-width="0.12">5,32</text>
<line x1="726.30" y1="149.60" x2="741.40" y2="149.60" stroke="#aaa" stroke-width="0.35" />
<path d="M727.04 152.60 L729.76 152.60 L728.40 150.40 Z" fill="none" stroke="#999" stroke-width="0.35" />
<path d="M636.60 149.50 L681.40 149.50 L689.40 157.20" fill="none" stroke="#8a8a8a" stroke-width="0.4" />
<text x="825.30" y="56.00" font-size="3.0" text-anchor="start" fill="#111" textLength="6.60" lengthAdjust="spacingAndGlyphs"  stroke="#111" stroke-width="0.12">6,73</text>
<line x1="821.00" y1="57.70" x2="836.00" y2="57.70" stroke="#aaa" stroke-width="0.35" />
<path d="M821.36 60.40 L823.84 60.40 L822.60 58.40 Z" fill="none" stroke="#999" stroke-width="0.35" />
<text x="825.30" y="74.90" font-size="3.0" text-anchor="start" fill="#111" textLength="6.60" lengthAdjust="spacingAndGlyphs"  stroke="#111" stroke-width="0.12">6,45</text>
<path d="M821.14 76.10 L824.86 76.10 L823.00 79.20 Z" fill="#111" stroke="#111" stroke-width="0.3" />
<text x="825.00" y="102.80" font-size="3.0" text-anchor="start" fill="#111" textLength="6.40" lengthAdjust="spacingAndGlyphs"  stroke="#111" stroke-width="0.12">6,23</text>
<text x="825.40" y="143.20" font-size="3.0" text-anchor="start" fill="#111" textLength="6.40" lengthAdjust="spacingAndGlyphs"  stroke="#111" stroke-width="0.12">6,38</text>
<line x1="821.20" y1="144.30" x2="838.00" y2="144.30" stroke="#aaa" stroke-width="0.35" />
<path d="M821.96 147.20 L824.44 147.20 L823.20 145.20 Z" fill="none" stroke="#999" stroke-width="0.35" />
<text x="649.80" y="183.40" font-size="3.2" text-anchor="start" fill="#111" textLength="6.40" lengthAdjust="spacingAndGlyphs"  stroke="#111" stroke-width="0.12">4,78</text>
<line x1="645.00" y1="184.80" x2="661.00" y2="184.80" stroke="#aaa" stroke-width="0.35" />
<path d="M646.04 187.60 L648.76 187.60 L647.40 185.40 Z" fill="none" stroke="#999" stroke-width="0.35" />
<path d="M645.74 193.70 L649.46 193.70 L647.60 196.80 Z" fill="#111" stroke="#111" stroke-width="0.3" />
<text x="651.00" y="193.40" font-size="2.8" text-anchor="start" fill="#111" textLength="5.80" lengthAdjust="spacingAndGlyphs"  stroke="#111" stroke-width="0.12">4,65</text>
<text x="649.80" y="229.60" font-size="3.2" text-anchor="start" fill="#111" textLength="6.40" lengthAdjust="spacingAndGlyphs"  stroke="#111" stroke-width="0.12">4,20</text>
<line x1="645.00" y1="226.00" x2="661.00" y2="226.00" stroke="#aaa" stroke-width="0.35" />
<path d="M646.04 225.80 L648.76 225.80 L647.40 223.60 Z" fill="none" stroke="#999" stroke-width="0.35" />
<text x="731.60" y="167.00" font-size="2.8" text-anchor="start" fill="#111" textLength="5.80" lengthAdjust="spacingAndGlyphs"  stroke="#111" stroke-width="0.12">5,00</text>
<path d="M726.34 167.70 L730.06 167.70 L728.20 170.80 Z" fill="#111" stroke="#111" stroke-width="0.3" />
<text x="730.80" y="195.60" font-size="3.0" text-anchor="start" fill="#111" textLength="6.40" lengthAdjust="spacingAndGlyphs"  stroke="#111" stroke-width="0.12">4,75</text>
<line x1="725.80" y1="190.40" x2="729.00" y2="192.00" stroke="#999" stroke-width="0.35" />
<text x="730.80" y="227.00" font-size="3.0" text-anchor="start" fill="#111" textLength="6.40" lengthAdjust="spacingAndGlyphs"  stroke="#111" stroke-width="0.12">4,27</text>
<line x1="725.80" y1="223.30" x2="728.30" y2="220.00" stroke="#999" stroke-width="0.35" />
<path d="M720.00 206.70 L758.30 245.00 L857.80 245.00" fill="none" stroke="#8a8a8a" stroke-width="0.4" />
<line x1="759.20" y1="229.70" x2="740.00" y2="210.80" stroke="#777" stroke-width="0.4" />
<path d="M740.00 210.80 L741.82 211.63 L740.86 212.61 Z" fill="#222" stroke="none" stroke-width="0.6" />
<rect x="783.00" y="225.00" width="40.30" height="4.50" fill="none" stroke="#777" stroke-width="0.4" />
<text x="783.80" y="228.50" font-size="3.6" text-anchor="start" fill="#111" textLength="38.70" lengthAdjust="spacingAndGlyphs"  stroke="#111" stroke-width="0.12">Płytowe wieszaki stalowe</text>
<text x="825.80" y="230.80" font-size="3.0" text-anchor="start" fill="#111" textLength="6.40" lengthAdjust="spacingAndGlyphs"  stroke="#111" stroke-width="0.12">4,00</text>
<line x1="821.70" y1="231.80" x2="837.50" y2="231.80" stroke="#aaa" stroke-width="0.35" />
<path d="M821.90 232.20 L824.70 232.20 L823.30 234.60 Z" fill="none" stroke="#999" stroke-width="0.35" />
<rect x="784.20" y="239.80" width="73.60" height="4.70" fill="none" stroke="#777" stroke-width="0.4" />
<text x="785.00" y="243.40" font-size="3.6" text-anchor="start" fill="#111" textLength="72.00" lengthAdjust="spacingAndGlyphs"  stroke="#111" stroke-width="0.12">Izolacja - Wełna drzewna Steico flex 038 8cm</text>
<line x1="764.40" y1="254.60" x2="857.80" y2="254.60" stroke="#9a9a9a" stroke-width="0.35" />
<text x="771.60" y="257.98" font-size="3.6" text-anchor="end" fill="#111"  stroke="#111" stroke-width="0.12">0,3</text>
<text x="773.30" y="257.98" font-size="3.6" text-anchor="start" fill="#111" textLength="83.70" lengthAdjust="spacingAndGlyphs"  stroke="#111" stroke-width="0.12">Stal nierdzewna matowa, szary antracyt - rąbek leżący</text>
<line x1="764.40" y1="258.60" x2="857.80" y2="258.60" stroke="#9a9a9a" stroke-width="0.35" />
<text x="771.60" y="261.98" font-size="3.6" text-anchor="end" fill="#111"  stroke="#111" stroke-width="0.12">0,05</text>
<text x="773.30" y="261.98" font-size="3.6" text-anchor="start" fill="#111" textLength="32.70" lengthAdjust="spacingAndGlyphs"  stroke="#111" stroke-width="0.12">Folia wiatroizolacyjna</text>
<line x1="764.40" y1="262.60" x2="857.80" y2="262.60" stroke="#9a9a9a" stroke-width="0.35" />
<text x="771.60" y="265.98" font-size="3.6" text-anchor="end" fill="#111"  stroke="#111" stroke-width="0.12">2,5</text>
<text x="773.30" y="265.98" font-size="3.6" text-anchor="start" fill="#111" textLength="26.70" lengthAdjust="spacingAndGlyphs"  stroke="#111" stroke-width="0.12">Płyta Kronopol OSB/3</text>
<line x1="764.40" y1="266.60" x2="857.80" y2="266.60" stroke="#9a9a9a" stroke-width="0.35" />
<text x="771.60" y="269.98" font-size="3.6" text-anchor="end" fill="#111"  stroke="#111" stroke-width="0.12">3</text>
<text x="773.30" y="269.98" font-size="3.6" text-anchor="start" fill="#111" textLength="72.30" lengthAdjust="spacingAndGlyphs"  stroke="#111" stroke-width="0.12">Szczelina wentylacyjna/ Drewniana konstrukcja</text>
<line x1="764.40" y1="270.60" x2="857.80" y2="270.60" stroke="#9a9a9a" stroke-width="0.35" />
<text x="771.60" y="274.08" font-size="3.6" text-anchor="end" fill="#111"  stroke="#111" stroke-width="0.12">24</text>
<text x="773.30" y="274.08" font-size="3.6" text-anchor="start" fill="#111" textLength="84.10" lengthAdjust="spacingAndGlyphs"  stroke="#111" stroke-width="0.12">Wełna drzewna Steico flex 038/ Drewniana konstrukcja</text>
<line x1="764.40" y1="274.70" x2="857.80" y2="274.70" stroke="#9a9a9a" stroke-width="0.35" />
<text x="771.60" y="278.18" font-size="3.6" text-anchor="end" fill="#111"  stroke="#111" stroke-width="0.12">24</text>
<text x="773.30" y="278.18" font-size="3.6" text-anchor="start" fill="#111" textLength="41.60" lengthAdjust="spacingAndGlyphs"  stroke="#111" stroke-width="0.12">Drewno konstrukcyjne CLT</text>
<line x1="764.40" y1="278.80" x2="857.80" y2="278.80" stroke="#9a9a9a" stroke-width="0.35" />
<text x="771.60" y="282.18" font-size="3.6" text-anchor="end" fill="#111"  stroke="#111" stroke-width="0.12">1,25</text>
<text x="773.30" y="282.18" font-size="3.6" text-anchor="start" fill="#111" textLength="34.50" lengthAdjust="spacingAndGlyphs"  stroke="#111" stroke-width="0.12">Płyta GK ogniochronna</text>
<line x1="764.40" y1="282.80" x2="857.80" y2="282.80" stroke="#9a9a9a" stroke-width="0.35" />
<text x="771.60" y="286.18" font-size="3.6" text-anchor="end" fill="#111"  stroke="#111" stroke-width="0.12">45</text>
<text x="773.30" y="286.18" font-size="3.6" text-anchor="start" fill="#111" textLength="35.60" lengthAdjust="spacingAndGlyphs"  stroke="#111" stroke-width="0.12">Przestrzeń instalacyjna</text>
<line x1="764.40" y1="286.80" x2="857.80" y2="286.80" stroke="#9a9a9a" stroke-width="0.35" />
<text x="771.60" y="290.18" font-size="3.6" text-anchor="end" fill="#111"  stroke="#111" stroke-width="0.12">5</text>
<text x="773.30" y="290.18" font-size="3.6" text-anchor="start" fill="#111" textLength="38.90" lengthAdjust="spacingAndGlyphs"  stroke="#111" stroke-width="0.12">Konstrukcja podwieszona</text>
<line x1="764.40" y1="290.80" x2="857.80" y2="290.80" stroke="#9a9a9a" stroke-width="0.35" />
<text x="771.60" y="294.08" font-size="3.6" text-anchor="end" fill="#111"  stroke="#111" stroke-width="0.12">0,3</text>
<text x="773.30" y="294.08" font-size="3.6" text-anchor="start" fill="#111" textLength="45.60" lengthAdjust="spacingAndGlyphs"  stroke="#111" stroke-width="0.12">Siatka cięto-ciągniona osiatka</text>
<line x1="764.40" y1="294.70" x2="857.80" y2="294.70" stroke="#9a9a9a" stroke-width="0.35" />
<line x1="764.40" y1="298.20" x2="857.80" y2="298.20" stroke="#9a9a9a" stroke-width="0.35" />
<text x="771.60" y="301.68" font-size="3.6" text-anchor="end" fill="#111"  stroke="#111" stroke-width="0.12">0,7</text>
<text x="773.30" y="301.68" font-size="3.6" text-anchor="start" fill="#111" textLength="82.30" lengthAdjust="spacingAndGlyphs"  stroke="#111" stroke-width="0.12">Panel elewacyjny, stal nierdzewna wysokopolerowana</text>
<line x1="764.40" y1="302.40" x2="857.80" y2="302.40" stroke="#9a9a9a" stroke-width="0.35" />
<text x="771.60" y="305.88" font-size="3.6" text-anchor="end" fill="#111"  stroke="#111" stroke-width="0.12">3</text>
<text x="773.30" y="305.88" font-size="3.6" text-anchor="start" fill="#111" textLength="77.70" lengthAdjust="spacingAndGlyphs"  stroke="#111" stroke-width="0.12">Szczelina wentylacyjna/ Stalowa lekka konstrukcja</text>
<line x1="764.40" y1="306.60" x2="857.80" y2="306.60" stroke="#9a9a9a" stroke-width="0.35" />
<text x="771.60" y="310.08" font-size="3.6" text-anchor="end" fill="#111"  stroke="#111" stroke-width="0.12">0,05</text>
<text x="773.30" y="310.08" font-size="3.6" text-anchor="start" fill="#111" textLength="32.70" lengthAdjust="spacingAndGlyphs"  stroke="#111" stroke-width="0.12">Folia wiatroizolacyjna</text>
<line x1="764.40" y1="310.80" x2="857.80" y2="310.80" stroke="#9a9a9a" stroke-width="0.35" />
<text x="771.60" y="314.28" font-size="3.6" text-anchor="end" fill="#111"  stroke="#111" stroke-width="0.12">5</text>
<text x="773.30" y="314.28" font-size="3.6" text-anchor="start" fill="#111" textLength="84.10" lengthAdjust="spacingAndGlyphs"  stroke="#111" stroke-width="0.12">Wełna drzewna Steico flex 036/ Drewniana konstrukcja</text>
<line x1="764.40" y1="315.00" x2="857.80" y2="315.00" stroke="#9a9a9a" stroke-width="0.35" />
<text x="771.60" y="318.48" font-size="3.6" text-anchor="end" fill="#111"  stroke="#111" stroke-width="0.12">16</text>
<text x="773.30" y="318.48" font-size="3.6" text-anchor="start" fill="#111" textLength="84.10" lengthAdjust="spacingAndGlyphs"  stroke="#111" stroke-width="0.12">Wełna drzewna Steico flex 036/ Drewniana konstrukcja</text>
<line x1="764.40" y1="319.20" x2="857.80" y2="319.20" stroke="#9a9a9a" stroke-width="0.35" />
<text x="771.60" y="322.68" font-size="3.6" text-anchor="end" fill="#111"  stroke="#111" stroke-width="0.12">20</text>
<text x="773.30" y="322.68" font-size="3.6" text-anchor="start" fill="#111" textLength="41.60" lengthAdjust="spacingAndGlyphs"  stroke="#111" stroke-width="0.12">Drewno konstrukcyjne CLT</text>
<line x1="764.40" y1="323.40" x2="857.80" y2="323.40" stroke="#9a9a9a" stroke-width="0.35" />
<line x1="764.40" y1="254.60" x2="764.40" y2="323.60" stroke="#999" stroke-width="0.4" />
<line x1="718.90" y1="298.20" x2="764.40" y2="298.20" stroke="#8a8a8a" stroke-width="0.4" />
<text x="731.20" y="310.20" font-size="3.0" text-anchor="start" fill="#111" textLength="6.60" lengthAdjust="spacingAndGlyphs"  stroke="#111" stroke-width="0.12">2,94</text>
<line x1="726.10" y1="306.30" x2="742.50" y2="306.30" stroke="#aaa" stroke-width="0.35" />
<path d="M727.07 306.20 L729.93 306.20 L728.50 303.90 Z" fill="none" stroke="#999" stroke-width="0.35" />
<rect x="764.40" y="330.40" width="56.20" height="5.10" fill="none" stroke="#777" stroke-width="0.4" />
<text x="765.20" y="334.20" font-size="3.6" text-anchor="start" fill="#111" textLength="54.60" lengthAdjust="spacingAndGlyphs"  stroke="#111" stroke-width="0.12">Wspornik z drewna sosnowego 2cm</text>
<path d="M764.40 335.60 L743.30 335.60 L712.20 303.30" fill="none" stroke="#8a8a8a" stroke-width="0.4" />
<rect x="764.70" y="362.80" width="52.80" height="4.10" fill="none" stroke="#777" stroke-width="0.4" />
<text x="765.50" y="366.10" font-size="3.6" text-anchor="start" fill="#111" textLength="51.20" lengthAdjust="spacingAndGlyphs"  stroke="#111" stroke-width="0.12">Drzwi Aluprof Mb 104 Passive</text>
<line x1="738.30" y1="368.90" x2="706.40" y2="398.90" stroke="#777" stroke-width="0.4" />
<path d="M706.40 398.90 L707.30 397.11 L708.24 398.11 Z" fill="#222" stroke="none" stroke-width="0.6" />
<rect x="748.00" y="455.60" width="45.30" height="4.40" fill="none" stroke="#777" stroke-width="0.4" />
<text x="748.80" y="459.05" font-size="3.6" text-anchor="start" fill="#111" textLength="43.70" lengthAdjust="spacingAndGlyphs"  stroke="#111" stroke-width="0.12">Opierzenie z powłoki PCV 0,3mm</text>
<line x1="737.80" y1="460.60" x2="710.60" y2="488.30" stroke="#aaa" stroke-width="0.4" />
<line x1="818.40" y1="423.05" x2="857.60" y2="423.05" stroke="#9a9a9a" stroke-width="0.35" />
<text x="825.40" y="426.48" font-size="3.6" text-anchor="end" fill="#111"  stroke="#111" stroke-width="0.12">1</text>
<text x="827.60" y="426.48" font-size="3.6" text-anchor="start" fill="#111" textLength="28.80" lengthAdjust="spacingAndGlyphs"  stroke="#111" stroke-width="0.12">Panele podłogowe</text>
<line x1="818.40" y1="427.15" x2="857.60" y2="427.15" stroke="#9a9a9a" stroke-width="0.35" />
<text x="825.40" y="430.58" font-size="3.6" text-anchor="end" fill="#111"  stroke="#111" stroke-width="0.12">0,5</text>
<text x="827.60" y="430.58" font-size="3.6" text-anchor="start" fill="#111" textLength="17.70" lengthAdjust="spacingAndGlyphs"  stroke="#111" stroke-width="0.12">Pianka PU z folią</text>
<line x1="818.40" y1="431.25" x2="857.60" y2="431.25" stroke="#9a9a9a" stroke-width="0.35" />
<text x="825.40" y="434.63" font-size="3.6" text-anchor="end" fill="#111"  stroke="#111" stroke-width="0.12">7</text>
<text x="827.60" y="434.63" font-size="3.6" text-anchor="start" fill="#111" textLength="24.60" lengthAdjust="spacingAndGlyphs"  stroke="#111" stroke-width="0.12">Beton (Wylewka)</text>
<line x1="818.40" y1="435.30" x2="857.60" y2="435.30" stroke="#9a9a9a" stroke-width="0.35" />
<text x="825.40" y="438.63" font-size="3.6" text-anchor="end" fill="#111"  stroke="#111" stroke-width="0.12">0,05</text>
<text x="827.60" y="438.63" font-size="3.6" text-anchor="start" fill="#111" textLength="11.00" lengthAdjust="spacingAndGlyphs"  stroke="#111" stroke-width="0.12">Folia PE</text>
<line x1="818.40" y1="439.30" x2="857.60" y2="439.30" stroke="#9a9a9a" stroke-width="0.35" />
<text x="825.40" y="442.68" font-size="3.6" text-anchor="end" fill="#111"  stroke="#111" stroke-width="0.12">5</text>
<text x="827.60" y="442.68" font-size="3.6" text-anchor="start" fill="#111" textLength="29.60" lengthAdjust="spacingAndGlyphs"  stroke="#111" stroke-width="0.12">Styropian EPS 040</text>
<line x1="818.40" y1="443.35" x2="857.60" y2="443.35" stroke="#9a9a9a" stroke-width="0.35" />
<text x="825.40" y="446.63" font-size="3.6" text-anchor="end" fill="#111"  stroke="#111" stroke-width="0.12">5</text>
<text x="827.60" y="446.63" font-size="3.6" text-anchor="start" fill="#111" textLength="29.60" lengthAdjust="spacingAndGlyphs"  stroke="#111" stroke-width="0.12">Styropian EPS 040</text>
<line x1="818.40" y1="447.30" x2="857.60" y2="447.30" stroke="#9a9a9a" stroke-width="0.35" />
<text x="825.40" y="450.53" font-size="3.6" text-anchor="end" fill="#111"  stroke="#111" stroke-width="0.12">16</text>
<text x="827.60" y="450.53" font-size="3.6" text-anchor="start" fill="#111" textLength="30.00" lengthAdjust="spacingAndGlyphs"  stroke="#111" stroke-width="0.12">Żelbet monolityczny</text>
<line x1="818.40" y1="451.20" x2="857.60" y2="451.20" stroke="#9a9a9a" stroke-width="0.35" />
<text x="825.40" y="454.30" font-size="3.6" text-anchor="end" fill="#111"  stroke="#111" stroke-width="0.12">-100</text>
<line x1="818.40" y1="454.90" x2="857.60" y2="454.90" stroke="#9a9a9a" stroke-width="0.35" />
<text x="825.40" y="458.28" font-size="3.6" text-anchor="end" fill="#111"  stroke="#111" stroke-width="0.12">0,15</text>
<text x="827.60" y="458.28" font-size="3.6" text-anchor="start" fill="#111" textLength="26.00" lengthAdjust="spacingAndGlyphs"  stroke="#111" stroke-width="0.12">Membrana EPDM</text>
<line x1="818.40" y1="458.90" x2="857.60" y2="458.90" stroke="#9a9a9a" stroke-width="0.35" />
<text x="825.40" y="462.28" font-size="3.6" text-anchor="end" fill="#111"  stroke="#111" stroke-width="0.12">15</text>
<text x="827.60" y="462.28" font-size="3.6" text-anchor="start" fill="#111" textLength="28.80" lengthAdjust="spacingAndGlyphs"  stroke="#111" stroke-width="0.12">Styropian XPS 032</text>
<line x1="818.40" y1="462.90" x2="857.60" y2="462.90" stroke="#9a9a9a" stroke-width="0.35" />
<text x="825.40" y="466.28" font-size="3.6" text-anchor="end" fill="#111"  stroke="#111" stroke-width="0.12">5</text>
<text x="827.60" y="466.28" font-size="3.6" text-anchor="start" fill="#111" textLength="18.40" lengthAdjust="spacingAndGlyphs"  stroke="#111" stroke-width="0.12">Chudy beton</text>
<line x1="818.40" y1="466.90" x2="857.60" y2="466.90" stroke="#9a9a9a" stroke-width="0.35" />
<text x="825.40" y="470.28" font-size="3.6" text-anchor="end" fill="#111"  stroke="#111" stroke-width="0.12">10</text>
<text x="827.60" y="470.28" font-size="3.6" text-anchor="start" fill="#111" textLength="9.40" lengthAdjust="spacingAndGlyphs"  stroke="#111" stroke-width="0.12">Piasek</text>
<line x1="818.40" y1="470.90" x2="857.60" y2="470.90" stroke="#9a9a9a" stroke-width="0.35" />
<text x="827.60" y="474.40" font-size="3.6" text-anchor="start" fill="#111" textLength="21.80" lengthAdjust="spacingAndGlyphs"  stroke="#111" stroke-width="0.12">Grunt rodzimy</text>
<line x1="857.60" y1="423.60" x2="857.60" y2="474.40" stroke="#8a8a8a" stroke-width="0.45" />
</g>
<g id="titles">
<text x="745.60" y="26.60" font-size="9.8" text-anchor="start" fill="#1a1a1a" textLength="124.40" lengthAdjust="spacingAndGlyphs" >DOM LITERATURY | BRZEGI</text>
<text x="806.70" y="619.00" font-size="10.7" text-anchor="start" fill="#1a1a1a" textLength="64.00" lengthAdjust="spacingAndGlyphs" >Krzysztof Pryt</text>
<text x="43.00" y="613.80" font-size="4.4" text-anchor="start" fill="#000" textLength="512.00" lengthAdjust="spacingAndGlyphs" stroke="#000" stroke-width="0.13">I-C-26 PROJEKTOWANIE ARCHITEKTONICZNO - URBANISTYCZNE | STOPIEŃ I | SEMESTR 05 | 2020/2021 | ZESPÓŁ PROJEKTOWANIA OBIEKTÓW KULTURY A-63 | I-C-20 PUBLIC USE BUILDING | DESIGN I | 1st DEGREE | 5th SEMESTER 2020/21 | A-63</text>
<text x="43.00" y="626.00" font-size="4.4" text-anchor="start" fill="#000" textLength="478.70" lengthAdjust="spacingAndGlyphs" stroke="#000" stroke-width="0.13">PROWADZĄCY: DR HAB.INŻ.ARCH. MAGDALENA KOZIEŃ - WOŹNIAK, PROF. PK  | DR INŻ. ARCH. PAWEŁ ŻUK  | MGR INŻ. ARCH. ELIZA OWCZAREK | MGR INŻ. ARCH. MARCIN GIERBIENIS | MGR INŻ. ARCH. KRZYSZTOF SMOLIŃSKI</text>
</g>
</g>
</svg>
</body></html>
